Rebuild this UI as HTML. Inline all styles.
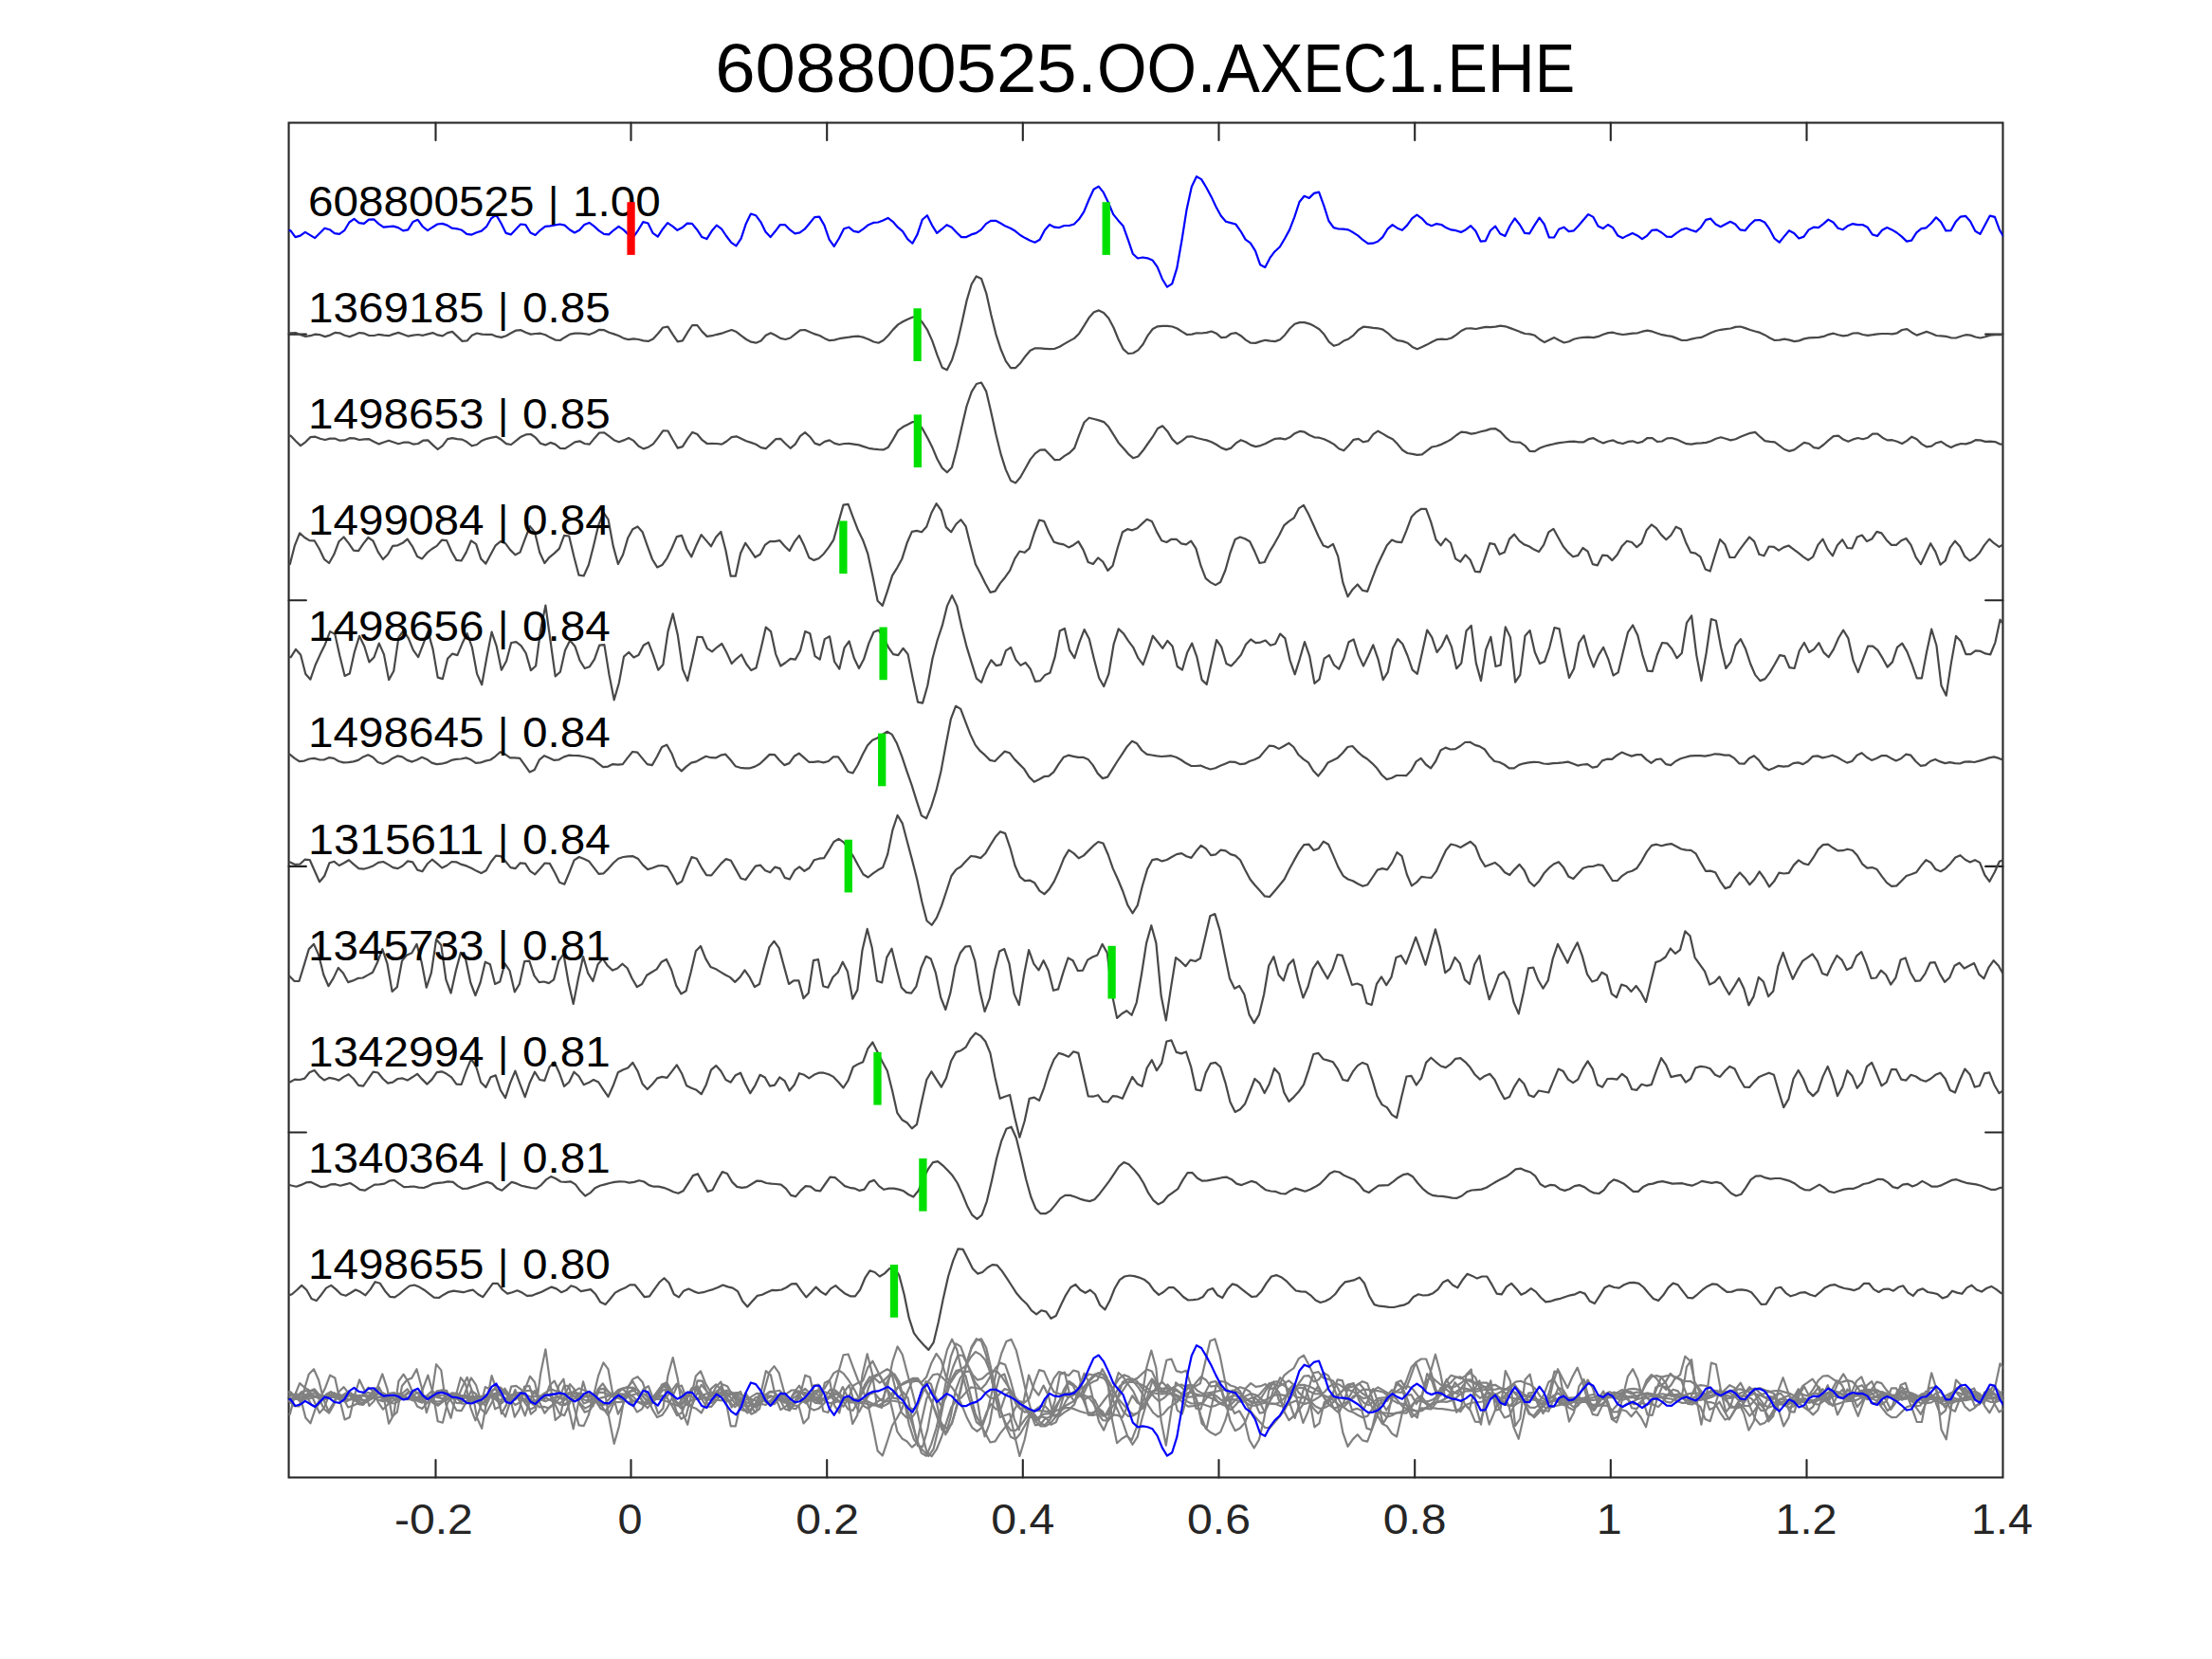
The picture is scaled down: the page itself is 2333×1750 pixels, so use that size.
<!DOCTYPE html><html><head><meta charset="utf-8"><title>608800525.OO.AXEC1.EHE</title>
<style>html,body{margin:0;padding:0;background:#fff}body{width:2333px;height:1750px;overflow:hidden}svg{display:block}text{font-family:"Liberation Sans",sans-serif}</style></head><body>
<svg width="2333" height="1750" viewBox="0 0 2333 1750">
<rect width="2333" height="1750" fill="#fff"/>
<defs>
<clipPath id="cp"><rect x="304.55" y="129.50" width="1807.90" height="1429.00"/></clipPath>
</defs>
<g stroke="#262626" stroke-width="2.1" fill="none" stroke-linecap="round">
<rect x="304.55" y="129.50" width="1807.90" height="1429.00"/>
<path d="M459.5 1558.5v-18.5M459.5 129.5v18.5M665.5 1558.5v-18.5M665.5 129.5v18.5M872.2 1558.5v-18.5M872.2 129.5v18.5M1078.8 1558.5v-18.5M1078.8 129.5v18.5M1285.5 1558.5v-18.5M1285.5 129.5v18.5M1492.2 1558.5v-18.5M1492.2 129.5v18.5M1698.8 1558.5v-18.5M1698.8 129.5v18.5M1905.5 1558.5v-18.5M1905.5 129.5v18.5M304.6 352.6h18.3M2112.4 352.6h-18.3M304.6 633.2h18.3M2112.4 633.2h-18.3M304.6 913.9h18.3M2112.4 913.9h-18.3M304.6 1194.5h18.3M2112.4 1194.5h-18.3M304.6 1475.1h18.3M2112.4 1475.1h-18.3"/>
</g>
<g fill="none" stroke-linejoin="round" stroke-linecap="butt" stroke-width="2.2" clip-path="url(#cp)">
<polyline points="302.3,351.3 306.7,351.3 311.8,351.1 317.0,353.2 322.2,354.9 327.3,354.2 332.5,352.6 337.7,353.2 342.8,355.1 348.0,353.6 353.2,350.9 358.3,351.3 363.5,353.8 368.7,355.1 373.8,353.2 379.0,351.1 384.2,351.7 389.3,354.0 394.5,354.0 399.6,352.8 404.8,353.6 410.0,354.2 415.1,352.4 420.3,350.9 425.5,352.8 430.6,354.7 435.8,353.6 441.0,353.0 446.1,353.8 451.3,352.4 456.5,351.1 461.6,353.4 466.8,354.4 472.0,351.1 477.1,349.9 482.3,354.9 487.5,359.9 492.6,359.4 497.8,353.8 503.0,351.5 508.1,352.6 513.3,352.8 518.5,352.8 523.6,354.9 528.8,355.9 533.9,354.2 539.1,351.3 544.3,348.6 549.4,348.2 554.6,350.7 559.8,352.6 564.9,352.0 570.1,351.7 575.3,353.2 580.4,356.1 585.6,358.6 590.8,359.0 595.9,355.7 601.1,352.6 606.3,351.7 611.4,351.5 616.6,352.2 621.8,352.8 626.9,350.7 632.1,347.8 637.3,348.2 642.4,350.7 647.6,352.4 652.8,354.2 657.9,356.9 663.1,358.2 668.2,357.4 673.4,358.0 678.6,359.4 683.7,359.9 688.9,357.4 694.1,351.7 699.2,345.5 704.4,344.7 709.6,352.8 714.7,360.3 719.9,359.4 725.1,350.7 730.2,343.0 735.4,343.2 740.6,349.9 745.7,354.9 750.9,354.2 756.1,352.8 761.2,351.7 766.4,349.7 771.6,348.0 776.7,350.1 781.9,354.2 787.1,358.0 792.2,360.7 797.4,361.7 802.6,359.4 807.7,353.8 812.9,351.3 818.0,353.8 823.2,356.9 828.4,358.0 833.5,356.5 838.7,352.4 843.9,348.4 849.0,348.0 854.2,350.3 859.4,352.4 864.5,354.0 869.7,356.9 874.9,359.2 880.0,358.6 885.2,357.2 890.4,356.3 895.5,355.7 900.7,354.9 905.9,354.7 911.0,355.9 916.2,358.0 921.4,360.5 926.5,361.7 931.7,359.0 936.9,353.8 942.0,347.6 947.2,342.4 952.3,339.3 957.5,336.8 962.7,334.5 967.8,334.5 973.0,340.3 978.2,348.2 983.3,359.6 988.5,374.6 993.7,387.7 998.8,390.2 1004.0,379.8 1009.2,363.2 1014.3,341.3 1019.5,317.4 1024.7,299.8 1029.8,291.4 1035.0,293.9 1040.2,309.1 1045.3,332.0 1050.5,352.8 1055.7,368.8 1060.8,380.9 1066.0,388.1 1071.2,388.1 1076.3,382.9 1081.5,375.7 1086.6,369.8 1091.8,367.3 1097.0,367.3 1102.1,367.8 1107.3,368.2 1112.5,367.8 1117.6,365.7 1122.8,362.6 1128.0,359.6 1133.1,356.9 1138.3,351.7 1143.5,343.4 1148.6,335.1 1153.8,329.3 1159.0,327.4 1164.1,329.9 1169.3,335.7 1174.5,345.5 1179.6,358.0 1184.8,368.4 1190.0,373.0 1195.1,372.5 1200.3,369.4 1205.5,363.2 1210.6,353.8 1215.8,347.0 1221.0,344.3 1226.1,343.8 1231.3,343.8 1236.4,344.5 1241.6,346.5 1246.8,349.9 1251.9,353.0 1257.1,352.6 1262.3,351.3 1267.4,351.5 1272.6,350.9 1277.8,349.5 1282.9,351.7 1288.1,356.1 1293.3,355.7 1298.4,352.0 1303.6,351.1 1308.8,354.2 1313.9,358.6 1319.1,361.7 1324.3,361.9 1329.4,360.1 1334.6,358.8 1339.8,359.6 1344.9,360.1 1350.1,358.2 1355.3,353.2 1360.4,346.5 1365.6,341.8 1370.7,340.1 1375.9,340.1 1381.1,341.6 1386.2,344.1 1391.4,347.2 1396.6,352.8 1401.7,360.7 1406.9,364.8 1412.1,363.2 1417.2,359.6 1422.4,357.4 1427.6,353.6 1432.7,348.0 1437.9,344.7 1443.1,345.1 1448.2,345.9 1453.4,346.3 1458.6,347.6 1463.7,351.3 1468.9,356.3 1474.1,359.2 1479.2,359.9 1484.4,361.7 1489.6,365.9 1494.7,368.2 1499.9,366.1 1505.0,363.6 1510.2,360.7 1515.4,358.2 1520.5,357.6 1525.7,358.0 1530.9,356.5 1536.0,353.2 1541.2,349.0 1546.4,346.5 1551.5,346.3 1556.7,347.0 1561.9,345.9 1567.0,344.9 1572.2,345.1 1577.4,344.7 1582.5,343.6 1587.7,344.3 1592.9,346.1 1598.0,348.0 1603.2,350.1 1608.4,352.0 1613.5,352.4 1618.7,353.8 1623.9,358.0 1629.0,361.1 1634.2,358.6 1639.3,356.1 1644.5,359.0 1649.7,361.5 1654.8,360.3 1660.0,357.8 1665.2,356.5 1670.3,355.9 1675.5,355.7 1680.7,356.1 1685.8,354.9 1691.0,352.8 1696.2,351.1 1701.3,350.7 1706.5,352.2 1711.7,353.0 1716.8,352.4 1722.0,351.7 1727.2,351.3 1732.3,349.7 1737.5,348.6 1742.7,349.7 1747.8,351.5 1753.0,353.2 1758.2,354.2 1763.3,354.9 1768.5,356.9 1773.7,359.0 1778.8,359.0 1784.0,357.6 1789.1,356.5 1794.3,355.9 1799.5,353.6 1804.6,351.1 1809.8,349.0 1815.0,347.8 1820.1,347.2 1825.3,346.5 1830.5,344.9 1835.6,344.5 1840.8,346.1 1846.0,348.0 1851.1,349.5 1856.3,350.9 1861.5,353.4 1866.6,356.5 1871.8,359.0 1877.0,358.6 1882.1,357.6 1887.3,358.6 1892.5,360.1 1897.6,359.4 1902.8,357.4 1908.0,356.3 1913.1,356.1 1918.3,355.9 1923.4,354.9 1928.6,352.8 1933.8,351.7 1938.9,353.2 1944.1,354.4 1949.3,353.6 1954.4,351.5 1959.6,351.3 1964.8,353.0 1969.9,353.8 1975.1,353.2 1980.3,352.4 1985.4,352.0 1990.6,352.0 1995.8,352.4 2000.9,351.3 2006.1,348.0 2011.3,347.2 2016.4,350.7 2021.6,353.6 2026.8,351.7 2031.9,349.9 2037.1,351.7 2042.3,354.0 2047.4,354.4 2052.6,354.9 2057.7,356.3 2062.9,356.5 2068.1,354.7 2073.2,353.2 2078.4,353.6 2083.6,355.5 2088.7,356.5 2093.9,355.3 2099.1,353.6 2104.2,353.2 2114.6,353.2" stroke="#484848"/>
<polyline points="302.3,459.7 306.7,459.7 311.9,465.3 317.0,470.1 322.2,466.3 327.4,461.1 332.5,460.7 337.7,462.8 342.8,464.0 348.0,462.6 353.2,462.6 358.3,464.7 363.5,464.4 368.7,462.2 373.8,462.4 379.0,464.0 384.2,463.4 389.3,463.2 394.5,465.9 399.7,468.4 404.8,466.5 410.0,464.7 415.2,466.5 420.3,468.2 425.5,466.7 430.7,466.5 435.8,468.6 441.0,468.0 446.2,464.7 451.3,464.4 456.5,469.4 461.7,474.0 466.8,470.1 472.0,463.2 477.2,462.2 482.3,463.2 487.5,463.6 492.6,466.3 497.8,470.3 503.0,469.0 508.1,464.9 513.3,462.8 518.5,461.7 523.6,460.7 528.8,463.8 534.0,468.2 539.1,469.0 544.3,464.9 549.5,460.7 554.6,458.4 559.8,458.0 565.0,461.7 570.1,467.8 575.3,469.4 580.5,466.9 585.6,468.6 590.8,472.8 596.0,473.2 601.1,469.9 606.3,466.3 611.5,465.3 616.6,468.0 621.8,468.6 626.9,462.4 632.1,456.5 637.3,456.3 642.4,460.1 647.6,464.2 652.8,466.3 657.9,464.4 663.1,462.0 668.3,464.9 673.4,470.5 678.6,473.4 683.8,471.7 688.9,468.4 694.1,461.7 699.3,454.3 704.4,454.5 709.6,463.8 714.8,472.6 719.9,471.1 725.1,462.8 730.3,455.9 735.4,458.0 740.6,464.2 745.8,468.0 750.9,467.8 756.1,468.0 761.2,468.6 766.4,465.5 771.6,461.1 776.7,460.3 781.9,462.8 787.1,465.3 792.2,466.9 797.4,468.8 802.6,472.1 807.7,473.2 812.9,468.4 818.1,463.2 823.2,462.8 828.4,468.0 833.6,472.8 838.7,468.6 843.9,460.1 849.1,456.1 854.2,460.7 859.4,467.6 864.6,469.4 869.7,465.9 874.9,464.4 880.1,467.6 885.2,469.0 890.4,468.0 895.6,467.8 900.7,468.6 905.9,469.4 911.0,471.1 916.2,472.8 921.4,473.6 926.5,474.2 931.7,474.4 936.9,471.7 942.0,463.4 947.2,454.1 952.4,450.3 957.5,447.8 962.7,445.1 967.9,445.1 973.0,452.4 978.2,461.7 983.4,472.1 988.5,484.2 993.7,493.6 998.9,498.3 1004.0,492.9 1009.2,473.2 1014.4,450.3 1019.5,428.5 1024.7,413.3 1029.9,405.0 1035.0,403.5 1040.2,412.9 1045.3,434.7 1050.5,458.6 1055.7,479.4 1060.8,495.4 1066.0,506.9 1071.2,509.4 1076.3,503.3 1081.5,494.0 1086.7,484.6 1091.8,478.4 1097.0,474.6 1102.2,474.4 1107.3,479.8 1112.5,485.2 1117.7,484.8 1122.8,480.9 1128.0,477.8 1133.2,472.6 1138.3,458.6 1143.5,445.5 1148.7,440.7 1153.8,442.0 1159.0,443.4 1164.2,445.1 1169.3,450.3 1174.5,458.6 1179.6,466.9 1184.8,472.8 1190.0,478.8 1195.1,483.2 1200.3,481.5 1205.5,475.3 1210.6,468.0 1215.8,460.7 1221.0,452.0 1226.1,449.3 1231.3,454.9 1236.5,463.4 1241.6,468.2 1246.8,464.9 1252.0,460.7 1257.1,460.3 1262.3,462.0 1267.5,463.2 1272.6,464.4 1277.8,466.3 1283.0,469.0 1288.1,472.4 1293.3,474.4 1298.5,472.6 1303.6,467.4 1308.8,464.2 1314.0,466.3 1319.1,469.4 1324.3,471.1 1329.4,470.1 1334.6,468.0 1339.8,465.3 1344.9,462.8 1350.1,462.4 1355.3,463.4 1360.4,461.3 1365.6,457.2 1370.8,454.9 1375.9,455.7 1381.1,459.0 1386.3,461.3 1391.4,461.7 1396.6,463.2 1401.8,465.7 1406.9,468.6 1412.1,473.2 1417.3,475.3 1422.4,470.1 1427.6,463.8 1432.8,462.8 1437.9,466.3 1443.1,465.1 1448.3,458.2 1453.4,454.7 1458.6,457.6 1463.7,460.7 1468.9,463.2 1474.1,468.6 1479.2,474.8 1484.4,478.0 1489.6,478.8 1494.7,479.8 1499.9,479.4 1505.1,475.3 1510.2,471.5 1515.4,470.5 1520.6,468.6 1525.7,466.1 1530.9,463.2 1536.1,459.0 1541.2,455.7 1546.4,456.1 1551.6,457.6 1556.7,456.8 1561.9,455.3 1567.1,454.1 1572.2,452.4 1577.4,452.2 1582.6,455.5 1587.7,461.1 1592.9,465.5 1598.0,466.5 1603.2,466.7 1608.4,470.1 1613.5,475.9 1618.7,476.1 1623.9,472.8 1629.0,470.7 1634.2,469.4 1639.4,468.2 1644.5,467.2 1649.7,466.5 1654.9,465.9 1660.0,465.7 1665.2,466.3 1670.4,466.3 1675.5,463.2 1680.7,462.2 1685.9,465.3 1691.0,467.4 1696.2,465.5 1701.4,464.4 1706.5,466.9 1711.7,468.0 1716.9,465.9 1722.0,465.3 1727.2,467.2 1732.3,465.9 1737.5,462.0 1742.7,462.2 1747.8,465.9 1753.0,465.5 1758.2,462.4 1763.3,462.0 1768.5,463.6 1773.7,465.9 1778.8,468.2 1784.0,468.6 1789.2,467.6 1794.3,467.4 1799.5,466.9 1804.7,465.3 1809.8,462.8 1815.0,461.3 1820.2,462.8 1825.3,464.4 1830.5,463.2 1835.7,460.7 1840.8,458.8 1846.0,456.8 1851.2,455.9 1856.3,460.7 1861.5,465.1 1866.7,465.9 1871.8,466.3 1877.0,470.1 1882.1,474.0 1887.3,475.9 1892.5,474.4 1897.6,470.7 1902.8,466.9 1908.0,468.0 1913.1,472.1 1918.3,472.8 1923.5,469.0 1928.6,464.4 1933.8,460.1 1939.0,459.7 1944.1,463.6 1949.3,465.7 1954.5,463.4 1959.6,462.0 1964.8,463.2 1970.0,461.7 1975.1,457.6 1980.3,457.6 1985.5,461.7 1990.6,464.4 1995.8,464.2 2001.0,465.7 2006.1,468.0 2011.3,464.9 2016.4,460.7 2021.6,463.2 2026.8,468.4 2031.9,471.3 2037.1,470.7 2042.3,467.2 2047.4,465.9 2052.6,469.4 2057.8,471.9 2062.9,469.6 2068.1,468.0 2073.3,468.4 2078.4,466.9 2083.6,464.2 2088.8,464.4 2093.9,465.9 2099.1,465.7 2104.3,466.1 2109.4,468.4 2114.6,469.4" stroke="#484848"/>
<polyline points="302.3,595.2 305.8,595.2 310.9,575.3 316.1,562.4 321.3,567.0 326.4,570.1 331.6,570.3 336.8,579.0 341.9,589.8 347.1,594.0 352.3,584.8 357.4,571.3 362.6,566.5 367.8,573.2 372.9,580.7 378.1,581.1 383.3,573.4 388.4,567.0 393.6,570.7 398.7,582.1 403.9,590.0 409.1,584.8 414.2,575.9 419.4,575.3 424.6,572.8 429.7,568.6 434.9,576.3 440.1,586.9 445.2,589.4 450.4,583.2 455.6,579.0 460.7,575.9 465.9,569.7 471.1,570.1 476.2,581.7 481.4,590.9 486.6,591.5 491.7,582.6 496.9,570.3 502.1,573.8 507.2,589.4 512.4,594.6 517.6,584.8 522.7,575.3 527.9,571.1 533.0,573.2 538.2,580.1 543.4,585.3 548.5,582.6 553.7,568.6 558.9,555.1 564.0,561.3 569.2,582.8 574.4,594.0 579.5,587.8 584.7,583.6 589.9,578.6 595.0,564.9 600.2,565.5 605.4,587.3 610.5,606.7 615.7,607.5 620.9,595.7 626.0,575.9 631.2,554.1 636.4,540.6 641.5,547.8 646.7,575.9 651.9,595.0 657.0,585.3 662.2,567.6 667.3,558.2 672.5,555.5 677.7,561.3 682.8,575.9 688.0,590.0 693.2,598.4 698.3,596.1 703.5,588.8 708.7,578.0 713.8,566.1 719.0,564.9 724.2,579.0 729.3,587.3 734.5,574.9 739.7,564.1 744.8,570.1 750.0,576.3 755.2,566.5 760.3,560.9 765.5,580.7 770.7,607.7 775.8,607.7 781.0,583.8 786.2,572.8 791.3,580.1 796.5,587.8 801.7,584.8 806.8,574.9 812.0,571.1 817.1,571.1 822.3,570.1 827.5,575.9 832.6,581.1 837.8,571.7 843.0,564.9 848.1,575.3 853.3,588.2 858.5,590.9 863.6,589.0 868.8,584.2 874.0,577.4 879.1,569.7 884.3,550.9 889.5,532.6 894.6,531.8 899.8,545.8 905.0,559.3 910.1,569.7 915.3,584.2 920.5,608.1 925.6,633.7 930.8,638.9 936.0,623.3 941.1,607.1 946.3,598.8 951.4,589.4 956.6,572.8 961.8,560.9 966.9,559.9 972.1,561.3 977.3,555.5 982.4,541.0 987.6,531.2 992.8,538.5 997.9,556.1 1003.1,561.3 1008.3,553.0 1013.4,548.2 1018.6,555.1 1023.8,575.9 1028.9,595.2 1034.1,605.0 1039.3,615.4 1044.4,624.8 1049.6,623.7 1054.8,615.4 1059.9,609.2 1065.1,601.9 1070.3,589.4 1075.4,581.5 1080.6,582.8 1085.7,578.4 1090.9,562.0 1096.1,548.5 1101.2,549.9 1106.4,562.0 1111.6,571.7 1116.7,573.4 1121.9,574.4 1127.1,577.4 1132.2,574.9 1137.4,571.1 1142.6,580.1 1147.7,593.0 1152.9,595.0 1158.1,588.4 1163.2,592.5 1168.4,601.9 1173.6,596.7 1178.7,578.0 1183.9,561.3 1189.1,558.2 1194.2,559.3 1199.4,557.2 1204.6,552.4 1209.7,547.8 1214.9,549.9 1220.0,560.9 1225.2,570.3 1230.4,572.0 1235.5,568.8 1240.7,568.8 1245.9,573.4 1251.0,574.4 1256.2,570.7 1261.4,578.6 1266.5,596.7 1271.7,610.2 1276.9,614.4 1282.0,617.1 1287.2,614.0 1292.4,601.5 1297.5,583.2 1302.7,569.0 1307.9,566.5 1313.0,568.2 1318.2,571.3 1323.4,582.1 1328.5,594.0 1333.7,593.0 1338.9,582.1 1344.0,573.8 1349.2,564.5 1354.4,554.1 1359.5,549.9 1364.7,546.4 1369.8,536.4 1375.0,532.9 1380.2,542.6 1385.3,553.7 1390.5,565.5 1395.7,575.5 1400.8,577.4 1406.0,573.8 1411.2,586.9 1416.3,614.4 1421.5,629.3 1426.7,621.7 1431.8,616.5 1437.0,622.7 1442.2,623.9 1447.3,610.2 1452.5,596.7 1457.7,585.7 1462.8,575.3 1468.0,569.5 1473.2,571.7 1478.3,572.2 1483.5,559.3 1488.7,545.3 1493.8,540.1 1499.0,536.8 1504.1,536.8 1509.3,550.9 1514.5,569.2 1519.6,575.3 1524.8,568.2 1530.0,572.8 1535.1,589.4 1540.3,592.5 1545.5,585.3 1550.6,590.5 1555.8,602.9 1561.0,603.4 1566.1,588.4 1571.3,573.2 1576.5,574.2 1581.6,584.8 1586.8,582.6 1592.0,568.6 1597.1,563.6 1602.3,570.3 1607.5,574.4 1612.6,576.3 1617.8,579.6 1623.0,582.1 1628.1,574.9 1633.3,561.3 1638.4,557.8 1643.6,567.2 1648.8,576.5 1653.9,582.6 1659.1,587.3 1664.3,585.9 1669.4,578.0 1674.6,581.7 1679.8,595.2 1684.9,596.3 1690.1,585.7 1695.3,586.1 1700.4,591.1 1705.6,585.3 1710.8,575.9 1715.9,570.7 1721.1,572.0 1726.3,577.2 1731.4,572.8 1736.6,559.3 1741.8,553.4 1746.9,557.2 1752.1,564.1 1757.3,569.2 1762.4,564.5 1767.6,555.7 1772.8,558.2 1777.9,571.7 1783.1,582.6 1788.2,583.6 1793.4,587.3 1798.6,600.4 1803.7,602.5 1808.9,585.3 1814.1,569.0 1819.2,574.2 1824.4,588.0 1829.6,588.0 1834.7,580.1 1839.9,573.2 1845.1,566.5 1850.2,571.1 1855.4,584.8 1860.6,586.3 1865.7,576.5 1870.9,576.9 1876.1,580.7 1881.2,577.4 1886.4,575.5 1891.6,579.4 1896.7,583.2 1901.9,587.3 1907.1,590.9 1912.2,587.3 1917.4,574.9 1922.5,568.6 1927.7,579.6 1932.9,586.3 1938.0,574.9 1943.2,569.2 1948.4,578.0 1953.5,578.4 1958.7,566.5 1963.9,564.5 1969.0,571.1 1974.2,568.6 1979.4,560.9 1984.5,562.4 1989.7,569.7 1994.9,574.9 2000.0,574.9 2005.2,570.3 2010.4,568.0 2015.5,574.9 2020.7,587.8 2025.9,595.2 2031.0,584.2 2036.2,573.2 2041.4,582.1 2046.5,595.7 2051.7,591.5 2056.8,577.6 2062.0,570.7 2067.2,576.5 2072.3,586.9 2077.5,591.5 2082.7,588.4 2087.8,583.2 2093.0,574.9 2098.2,568.6 2103.3,573.2 2108.5,576.9 2113.7,573.8" stroke="#484848"/>
<polyline points="302.3,693.2 306.8,693.2 312.0,684.9 317.1,690.7 322.3,710.9 327.4,716.7 332.6,701.5 337.8,690.1 342.9,679.7 348.1,666.1 353.3,668.9 358.4,692.1 363.6,712.9 368.8,710.4 373.9,687.6 379.1,670.9 384.3,681.7 389.4,698.4 394.6,693.2 399.8,678.6 404.9,690.1 410.1,717.1 415.3,707.7 420.4,672.4 425.6,665.1 430.8,673.4 435.9,685.9 441.1,693.2 446.3,679.7 451.4,666.1 456.6,684.9 461.7,714.6 466.9,716.1 472.1,694.8 477.2,689.6 482.4,691.1 487.6,678.6 492.7,668.2 497.9,682.8 503.1,710.9 508.2,722.3 513.4,693.2 518.6,666.6 523.7,681.7 528.9,706.7 534.1,697.3 539.2,678.0 544.4,677.2 549.6,681.1 554.7,689.0 559.9,707.1 565.1,702.5 570.2,664.1 575.4,638.7 580.6,676.5 585.7,713.4 590.9,708.8 596.0,685.9 601.2,675.5 606.4,681.7 611.5,696.7 616.7,705.0 621.9,703.2 627.0,695.3 632.2,680.7 637.4,680.1 642.5,711.9 647.7,738.3 652.9,720.2 658.0,692.6 663.2,688.0 668.4,693.6 673.5,691.1 678.7,680.7 683.9,677.6 689.0,691.1 694.2,706.7 699.4,700.9 704.5,666.1 709.7,647.4 714.9,670.3 720.0,705.7 725.2,718.1 730.4,695.3 735.5,671.8 740.7,672.0 745.8,683.8 751.0,687.4 756.2,682.8 761.3,679.0 766.5,688.6 771.7,700.0 776.8,694.8 782.0,690.5 787.2,700.5 792.3,707.1 797.5,704.6 802.7,683.8 807.8,661.6 813.0,666.1 818.2,690.1 823.3,702.5 828.5,699.0 833.7,694.8 838.8,695.7 844.0,686.5 849.2,666.1 854.3,668.2 859.5,692.1 864.7,695.7 869.8,674.1 875.0,671.3 880.1,698.0 885.3,705.7 890.5,683.4 895.6,676.5 900.8,694.2 906.0,705.0 911.1,695.3 916.3,678.6 921.5,666.8 926.6,664.7 931.8,672.4 937.0,682.8 942.1,690.1 947.3,691.1 952.5,683.8 957.6,690.1 962.8,716.1 968.0,740.6 973.1,741.6 978.3,723.3 983.5,694.8 988.6,675.5 993.8,659.9 999.0,639.1 1004.1,628.1 1009.3,639.1 1014.4,662.0 1019.6,682.4 1024.8,699.4 1029.9,715.6 1035.1,719.8 1040.3,705.7 1045.4,696.3 1050.6,702.1 1055.8,701.1 1060.9,686.3 1066.1,682.8 1071.3,695.9 1076.4,701.9 1081.6,699.0 1086.8,705.7 1091.9,718.8 1097.1,718.1 1102.3,711.9 1107.4,709.8 1112.6,693.2 1117.8,665.5 1122.9,663.0 1128.1,685.9 1133.3,694.2 1138.4,677.6 1143.6,664.1 1148.8,674.1 1153.9,695.3 1159.1,715.0 1164.2,724.0 1169.4,710.9 1174.6,679.7 1179.7,663.4 1184.9,668.2 1190.1,676.1 1195.2,682.8 1200.4,694.2 1205.6,701.1 1210.7,686.9 1215.9,670.7 1221.1,677.2 1226.2,683.8 1231.4,675.9 1236.6,681.7 1241.7,703.0 1246.9,706.7 1252.1,688.6 1257.2,678.6 1262.4,693.2 1267.6,717.1 1272.7,721.9 1277.9,698.4 1283.1,675.1 1288.2,682.4 1293.4,700.0 1298.5,702.5 1303.7,696.9 1308.9,690.7 1314.0,679.7 1319.2,674.5 1324.4,678.2 1329.5,677.6 1334.7,675.5 1339.9,680.7 1345.0,679.2 1350.2,668.6 1355.4,673.4 1360.5,696.3 1365.7,711.3 1370.9,694.8 1376.0,677.0 1381.2,692.1 1386.4,720.8 1391.5,716.7 1396.7,694.6 1401.9,691.1 1407.0,701.5 1412.2,705.7 1417.4,694.2 1422.5,677.2 1427.7,674.5 1432.8,691.1 1438.0,702.5 1443.2,691.7 1448.3,680.3 1453.5,695.3 1458.7,717.1 1463.8,708.8 1469.0,683.8 1474.2,674.1 1479.3,679.2 1484.5,691.5 1489.7,706.7 1494.8,710.9 1500.0,688.0 1505.2,664.5 1510.3,672.4 1515.5,688.0 1520.7,681.3 1525.8,670.3 1531.0,682.4 1536.2,705.2 1541.3,699.4 1546.5,665.5 1551.7,659.9 1556.8,699.4 1562.0,718.1 1567.1,685.3 1572.3,671.8 1577.5,703.0 1582.6,701.5 1587.8,661.4 1593.0,672.4 1598.1,719.6 1603.3,711.9 1608.5,670.7 1613.6,665.1 1618.8,688.0 1624.0,700.0 1629.1,697.8 1634.3,682.8 1639.5,662.0 1644.6,663.4 1649.8,690.5 1655.0,715.0 1660.1,705.2 1665.3,678.0 1670.5,670.3 1675.6,690.1 1680.8,703.6 1686.0,691.1 1691.1,682.8 1696.3,695.3 1701.5,712.5 1706.6,709.4 1711.8,688.0 1716.9,667.2 1722.1,659.5 1727.3,670.3 1732.4,691.1 1737.6,707.7 1742.8,708.2 1747.9,690.5 1753.1,678.0 1758.3,678.6 1763.4,684.4 1768.6,694.2 1773.8,689.0 1778.9,657.2 1784.1,649.5 1789.3,691.1 1794.4,718.1 1799.6,689.0 1804.8,653.0 1809.9,654.7 1815.1,682.8 1820.3,705.0 1825.4,698.4 1830.6,680.7 1835.8,674.1 1840.9,684.2 1846.1,700.0 1851.2,711.9 1856.4,718.1 1861.6,716.1 1866.7,709.4 1871.9,700.5 1877.1,691.1 1882.2,692.1 1887.4,704.2 1892.6,705.0 1897.7,686.5 1902.9,678.0 1908.1,688.0 1913.2,684.9 1918.4,678.2 1923.6,688.4 1928.7,693.2 1933.9,684.9 1939.1,673.0 1944.2,664.7 1949.4,673.4 1954.6,696.9 1959.7,709.2 1964.9,695.3 1970.1,681.7 1975.2,681.7 1980.4,685.9 1985.5,694.2 1990.7,703.6 1995.9,698.4 2001.0,682.8 2006.2,678.6 2011.4,687.4 2016.5,700.5 2021.7,715.4 2026.9,715.4 2032.0,688.0 2037.2,663.7 2042.4,680.7 2047.5,723.3 2052.7,733.7 2057.9,699.4 2063.0,670.9 2068.2,676.5 2073.4,690.1 2078.5,690.1 2083.7,686.3 2088.9,686.9 2094.0,689.4 2099.2,690.5 2104.4,677.6 2109.5,653.7 2114.7,660.9" stroke="#484848"/>
<polyline points="302.3,795.7 305.5,795.7 310.7,799.9 315.9,803.2 321.0,802.6 326.2,800.5 331.3,799.9 336.5,801.3 341.7,801.5 346.8,799.2 352.0,799.9 357.2,803.0 362.3,804.4 367.5,804.2 372.7,803.4 377.8,801.9 383.0,798.4 388.2,796.3 393.3,798.8 398.5,804.0 403.7,805.7 408.8,803.6 414.0,799.9 419.2,797.4 424.3,798.4 429.5,801.9 434.7,803.6 439.8,801.5 445.0,798.8 450.2,800.9 455.3,804.6 460.5,806.1 465.6,805.7 470.8,804.4 476.0,801.9 481.1,800.9 486.3,800.5 491.5,799.4 496.6,801.3 501.8,804.9 507.0,804.4 512.1,802.6 517.3,801.5 522.5,797.8 527.6,793.2 532.8,795.7 538.0,799.4 543.1,799.4 548.3,799.9 553.5,807.1 558.6,814.4 563.8,811.9 569.0,801.3 574.1,797.2 579.3,799.4 584.5,801.9 589.6,801.3 594.8,798.4 599.9,796.7 605.1,797.0 610.3,797.2 615.4,798.0 620.6,799.2 625.8,800.9 630.9,805.1 636.1,809.2 641.3,808.6 646.4,806.1 651.6,806.7 656.8,806.1 661.9,799.4 667.1,793.0 672.3,793.6 677.4,799.9 682.6,806.1 687.8,807.1 692.9,798.2 698.1,788.0 703.3,785.7 708.4,794.7 713.6,808.2 718.8,813.4 723.9,808.6 729.1,804.6 734.3,803.4 739.4,800.5 744.6,797.8 749.7,799.2 754.9,799.4 760.1,796.7 765.2,795.7 770.4,801.5 775.6,808.2 780.7,809.8 785.9,810.3 791.1,810.3 796.2,808.6 801.4,805.7 806.6,800.9 811.7,795.9 816.9,796.1 822.1,801.9 827.2,807.1 832.4,805.1 837.6,797.8 842.7,794.7 847.9,799.2 853.1,803.8 858.2,803.8 863.4,803.2 868.6,804.4 873.7,803.0 878.9,798.4 884.0,798.4 889.2,805.7 894.4,814.0 899.5,815.5 904.7,806.7 909.9,795.7 915.0,786.3 920.2,780.7 925.4,778.4 930.5,774.9 935.7,771.8 940.9,774.9 946.0,784.3 951.2,797.8 956.4,813.4 961.5,827.9 966.7,844.6 971.9,860.4 977.0,863.3 982.2,850.8 987.4,834.2 992.5,813.4 997.7,785.3 1002.9,758.3 1008.0,744.8 1013.2,747.9 1018.3,761.4 1023.5,774.9 1028.7,785.9 1033.8,792.2 1039.0,796.7 1044.2,801.9 1049.3,803.0 1054.5,797.8 1059.7,792.6 1064.8,794.2 1070.0,800.9 1075.2,806.1 1080.3,811.3 1085.5,819.6 1090.7,824.8 1095.8,822.3 1101.0,819.2 1106.2,818.6 1111.3,814.4 1116.5,806.1 1121.7,798.8 1126.8,796.7 1132.0,797.8 1137.2,798.8 1142.3,798.8 1147.5,800.9 1152.7,807.1 1157.8,815.9 1163.0,821.1 1168.1,819.6 1173.3,811.3 1178.5,803.0 1183.6,795.3 1188.8,787.4 1194.0,781.8 1199.1,784.3 1204.3,791.5 1209.5,795.7 1214.6,796.5 1219.8,797.4 1225.0,798.0 1230.1,797.6 1235.3,797.2 1240.5,798.8 1245.6,801.5 1250.8,805.1 1256.0,807.8 1261.1,808.0 1266.3,807.6 1271.5,809.8 1276.6,811.5 1281.8,810.3 1287.0,807.8 1292.1,805.7 1297.3,803.6 1302.4,803.8 1307.6,806.1 1312.8,805.7 1317.9,803.0 1323.1,801.3 1328.3,798.8 1333.4,792.6 1338.6,786.6 1343.8,787.2 1348.9,789.9 1354.1,787.0 1359.3,783.9 1364.4,788.0 1369.6,796.3 1374.8,800.9 1379.9,804.4 1385.1,813.0 1390.3,818.6 1395.4,812.3 1400.6,804.4 1405.8,801.9 1410.9,799.4 1416.1,794.2 1421.3,788.0 1426.4,787.0 1431.6,792.6 1436.7,797.2 1441.9,800.5 1447.1,805.1 1452.2,810.3 1457.4,817.5 1462.6,822.1 1467.7,820.7 1472.9,818.0 1478.1,818.0 1483.2,818.2 1488.4,812.8 1493.6,803.4 1498.7,799.9 1503.9,806.5 1509.1,810.3 1514.2,803.0 1519.4,791.5 1524.6,788.6 1529.7,790.5 1534.9,790.1 1540.1,787.0 1545.2,783.0 1550.4,782.8 1555.6,785.9 1560.7,787.4 1565.9,790.5 1571.1,797.8 1576.2,803.0 1581.4,804.0 1586.5,806.5 1591.7,810.3 1596.9,810.3 1602.0,806.9 1607.2,805.3 1612.4,804.4 1617.5,803.8 1622.7,804.0 1627.9,805.5 1633.0,805.9 1638.2,805.1 1643.4,804.9 1648.5,804.4 1653.7,803.6 1658.9,805.5 1664.0,807.6 1669.2,806.5 1674.4,806.1 1679.5,809.6 1684.7,808.6 1689.9,802.4 1695.0,800.7 1700.2,800.9 1705.4,796.7 1710.5,793.6 1715.7,795.7 1720.8,797.6 1726.0,796.1 1731.2,796.1 1736.3,801.1 1741.5,804.9 1746.7,801.1 1751.8,800.5 1757.0,806.1 1762.2,807.1 1767.3,803.0 1772.5,800.3 1777.7,798.8 1782.8,797.4 1788.0,797.2 1793.2,797.2 1798.3,797.6 1803.5,796.7 1808.7,795.3 1813.8,795.7 1819.0,796.7 1824.2,796.7 1829.3,799.9 1834.5,805.5 1839.7,805.7 1844.8,799.9 1850.0,797.2 1855.1,801.9 1860.3,809.2 1865.5,812.3 1870.6,810.3 1875.8,807.8 1881.0,808.6 1886.1,808.2 1891.3,805.1 1896.5,804.4 1901.6,806.1 1906.8,803.0 1912.0,797.8 1917.1,797.4 1922.3,799.4 1927.5,798.2 1932.6,796.7 1937.8,798.8 1943.0,801.9 1948.1,804.6 1953.3,803.0 1958.5,796.7 1963.6,794.2 1968.8,798.8 1974.0,801.9 1979.1,799.9 1984.3,797.2 1989.4,797.0 1994.6,799.9 1999.8,802.4 2004.9,800.3 2010.1,795.7 2015.3,796.7 2020.4,803.0 2025.6,807.8 2030.8,807.1 2035.9,803.0 2041.1,800.9 2046.3,803.4 2051.4,805.1 2056.6,804.2 2061.8,805.1 2066.9,805.5 2072.1,803.6 2077.3,803.4 2082.4,804.0 2087.6,802.6 2092.8,801.1 2097.9,799.4 2103.1,798.4 2108.3,799.9 2113.4,801.9" stroke="#484848"/>
<polyline points="302.3,909.4 306.0,909.4 311.2,911.9 316.4,911.5 321.5,906.7 326.7,907.0 331.9,918.8 337.0,930.2 342.2,924.0 347.4,910.3 352.5,908.8 357.7,913.0 362.9,910.3 368.0,907.2 373.2,911.9 378.4,916.1 383.5,916.7 388.7,915.3 393.9,913.2 399.0,909.9 404.2,909.0 409.4,911.9 414.5,915.1 419.7,916.1 424.8,913.2 430.0,908.4 435.2,909.4 440.3,917.6 445.5,919.2 450.7,911.3 455.8,906.7 461.0,910.9 466.2,915.5 471.3,913.0 476.5,909.0 481.7,909.4 486.8,911.9 492.0,913.4 497.2,915.7 502.3,918.6 507.5,921.1 512.7,918.2 517.8,909.2 523.0,902.6 528.2,903.2 533.3,908.8 538.5,915.1 543.7,916.1 548.8,910.3 554.0,910.9 559.1,918.8 564.3,922.3 569.5,916.5 574.6,910.5 579.8,910.9 585.0,920.3 590.1,930.7 595.3,932.7 600.5,920.3 605.6,907.4 610.8,904.0 616.0,906.1 621.1,908.4 626.3,915.1 631.5,921.9 636.6,921.3 641.8,916.1 647.0,910.3 652.1,905.7 657.3,904.0 662.5,903.4 667.6,903.2 672.8,905.7 678.0,912.4 683.1,917.1 688.3,915.5 693.5,913.4 698.6,913.0 703.8,914.4 708.9,922.8 714.1,932.7 719.3,929.6 724.4,916.1 729.6,904.0 734.8,905.7 739.9,915.1 745.1,923.2 750.3,923.4 755.4,917.1 760.6,910.9 765.8,906.1 770.9,907.8 776.1,917.1 781.3,926.5 786.4,928.0 791.6,920.9 796.8,913.6 801.9,912.6 807.1,918.2 812.3,920.3 817.4,914.6 822.6,916.1 827.8,925.9 832.9,927.5 838.1,918.2 843.2,914.4 848.4,918.8 853.6,915.5 858.7,907.2 863.9,905.7 869.1,905.1 874.2,896.8 879.4,888.0 884.6,884.9 889.7,888.4 894.9,895.3 900.1,903.6 905.2,913.0 910.4,922.3 915.6,925.5 920.7,921.3 925.9,917.8 931.1,915.1 936.2,901.1 941.4,875.6 946.6,860.0 951.7,868.3 956.9,888.0 962.1,907.4 967.2,927.5 972.4,951.5 977.5,971.2 982.7,975.8 987.9,968.1 993.0,955.6 998.2,940.0 1003.4,924.0 1008.5,917.1 1013.7,914.0 1018.9,908.2 1024.0,903.0 1029.2,903.6 1034.4,905.1 1039.5,899.9 1044.7,891.1 1049.9,882.8 1055.0,877.2 1060.2,879.1 1065.4,894.3 1070.5,913.0 1075.7,924.8 1080.9,929.2 1086.0,928.6 1091.2,931.3 1096.4,939.6 1101.5,943.1 1106.7,937.9 1111.9,929.6 1117.0,918.2 1122.2,905.1 1127.3,896.6 1132.5,900.1 1137.7,905.3 1142.8,902.6 1148.0,897.4 1153.2,892.2 1158.3,888.0 1163.5,889.5 1168.7,901.5 1173.8,916.1 1179.0,927.5 1184.2,940.0 1189.3,954.6 1194.5,963.3 1199.7,955.2 1204.8,934.8 1210.0,917.1 1215.2,907.2 1220.3,906.1 1225.5,908.4 1230.7,907.0 1235.8,904.0 1241.0,901.1 1246.2,900.1 1251.3,903.2 1256.5,904.9 1261.6,897.8 1266.8,891.8 1272.0,895.3 1277.1,902.2 1282.3,901.3 1287.5,896.6 1292.6,897.4 1297.8,901.1 1303.0,902.6 1308.1,907.2 1313.3,917.8 1318.5,927.5 1323.6,933.8 1328.8,939.6 1334.0,945.4 1339.1,946.0 1344.3,940.0 1349.5,933.8 1354.6,927.5 1359.8,917.1 1365.0,907.4 1370.1,898.4 1375.3,891.1 1380.5,890.7 1385.6,897.0 1390.8,894.9 1395.9,887.6 1401.1,890.7 1406.3,902.6 1411.4,914.6 1416.6,923.8 1421.8,927.5 1426.9,929.2 1432.1,932.3 1437.3,934.8 1442.4,933.2 1447.6,925.5 1452.8,917.6 1457.9,916.1 1463.1,917.4 1468.3,909.9 1473.4,899.1 1478.6,903.2 1483.8,922.3 1488.9,934.4 1494.1,930.7 1499.3,924.8 1504.4,925.5 1509.6,925.9 1514.8,919.2 1519.9,907.8 1525.1,896.8 1530.3,890.5 1535.4,891.8 1540.6,893.9 1545.7,890.7 1550.9,887.8 1556.1,892.6 1561.2,905.7 1566.4,914.0 1571.6,911.9 1576.7,909.9 1581.9,914.0 1587.1,920.3 1592.2,923.0 1597.4,917.1 1602.6,911.9 1607.7,918.2 1612.9,930.0 1618.1,934.8 1623.2,929.6 1628.4,921.3 1633.6,915.7 1638.7,911.5 1643.9,909.2 1649.1,915.1 1654.2,924.4 1659.4,926.9 1664.6,921.3 1669.7,915.7 1674.9,914.2 1680.0,914.0 1685.2,912.2 1690.4,912.8 1695.5,920.9 1700.7,929.0 1705.9,929.0 1711.0,923.8 1716.2,920.3 1721.4,918.8 1726.5,915.7 1731.7,907.8 1736.9,898.4 1742.0,891.8 1747.2,890.7 1752.4,892.2 1757.5,890.9 1762.7,890.1 1767.9,892.8 1773.0,895.5 1778.2,896.6 1783.4,896.8 1788.5,900.3 1793.7,909.9 1798.9,918.8 1804.0,918.6 1809.2,920.3 1814.3,929.6 1819.5,937.1 1824.7,935.4 1829.8,926.5 1835.0,920.5 1840.2,925.9 1845.3,933.2 1850.5,927.5 1855.7,919.4 1860.8,926.5 1866.0,935.4 1871.2,929.6 1876.3,920.7 1881.5,921.5 1886.7,920.9 1891.8,912.6 1897.0,907.4 1902.2,910.9 1907.3,912.2 1912.5,904.7 1917.7,895.9 1922.8,891.1 1928.0,890.7 1933.2,894.3 1938.3,897.4 1943.5,897.2 1948.6,895.7 1953.8,897.0 1959.0,902.6 1964.1,911.3 1969.3,915.7 1974.5,915.1 1979.6,917.1 1984.8,924.4 1990.0,931.1 1995.1,934.8 2000.3,934.4 2005.5,929.2 2010.6,924.0 2015.8,922.3 2021.0,920.3 2026.1,913.4 2031.3,907.2 2036.5,909.9 2041.6,917.1 2046.8,919.2 2052.0,916.1 2057.1,910.9 2062.3,904.5 2067.5,902.2 2072.6,906.7 2077.8,909.4 2083.0,907.2 2088.1,909.9 2093.3,923.0 2098.4,929.8 2103.6,920.3 2108.8,908.8 2113.9,906.7" stroke="#484848"/>
<polyline points="302.3,1029.6 305.2,1029.6 310.3,1034.8 315.5,1035.0 320.6,1018.4 325.8,1001.1 331.0,995.9 336.1,1007.4 341.3,1028.2 346.5,1040.2 351.6,1031.9 356.8,1020.9 362.0,1026.5 367.1,1036.1 372.3,1034.4 377.5,1031.9 382.6,1031.5 387.8,1028.6 393.0,1025.7 398.1,1015.1 403.3,1001.1 408.5,1016.7 413.6,1045.9 418.8,1041.3 424.0,1013.6 429.1,1007.4 434.3,1005.3 439.5,995.9 444.6,1014.7 449.8,1041.7 454.9,1026.1 460.1,990.8 465.3,997.0 470.4,1033.4 475.6,1047.5 480.8,1024.0 485.9,1004.9 491.1,1011.5 496.3,1036.5 501.4,1050.0 506.6,1036.5 511.8,1014.7 516.9,1017.2 522.1,1038.0 527.3,1035.5 532.4,1016.3 537.6,1024.0 542.8,1046.3 547.9,1038.0 553.1,1014.2 558.3,1013.6 563.4,1029.2 568.6,1036.1 573.8,1035.5 578.9,1037.1 584.1,1033.4 589.3,1013.6 594.4,1006.3 599.6,1036.5 604.7,1059.0 609.9,1032.3 615.1,1009.1 620.2,1026.7 625.4,1035.0 630.6,1017.2 635.7,1011.1 640.9,1018.8 646.1,1023.6 651.2,1021.5 656.4,1016.7 661.6,1021.3 666.7,1032.3 671.9,1041.1 677.1,1038.0 682.2,1028.8 687.4,1025.5 692.6,1022.4 697.7,1014.7 702.9,1012.0 708.1,1023.0 713.2,1039.6 718.4,1048.4 723.6,1045.2 728.7,1025.5 733.9,1003.2 739.0,998.0 744.2,1011.1 749.4,1019.9 754.5,1021.9 759.7,1025.1 764.9,1028.2 770.0,1030.9 775.2,1035.9 780.4,1030.9 785.5,1023.4 790.7,1030.9 795.9,1041.1 801.0,1038.0 806.2,1017.8 811.4,999.1 816.5,992.8 821.7,1000.1 826.9,1019.4 832.0,1038.0 837.2,1034.4 842.4,1034.4 847.5,1053.1 852.7,1047.5 857.9,1013.2 863.0,1012.2 868.2,1040.2 873.3,1041.7 878.5,1030.7 883.7,1025.7 888.8,1014.7 894.0,1025.1 899.2,1053.6 904.3,1044.4 909.5,1002.2 914.7,979.9 919.8,1000.1 925.0,1034.8 930.2,1036.5 935.3,1009.9 940.5,1000.7 945.7,1021.9 950.8,1041.7 956.0,1046.9 961.2,1047.7 966.3,1040.7 971.5,1020.9 976.7,1008.8 981.8,1011.5 987.0,1026.7 992.2,1052.1 997.3,1065.0 1002.5,1046.9 1007.6,1019.4 1012.8,1005.3 1018.0,998.7 1023.1,998.0 1028.3,1013.6 1033.5,1045.4 1038.6,1066.9 1043.8,1053.1 1049.0,1023.6 1054.1,1003.6 1059.3,1001.1 1064.5,1016.7 1069.6,1048.4 1074.8,1060.0 1080.0,1028.2 1085.1,1002.2 1090.3,1016.7 1095.5,1023.4 1100.6,1013.2 1105.8,1024.0 1111.0,1044.8 1116.1,1043.4 1121.3,1026.1 1126.5,1010.5 1131.6,1013.2 1136.8,1024.0 1142.0,1023.6 1147.1,1012.6 1152.3,1009.5 1157.4,1007.4 1162.6,995.9 1167.8,1005.3 1172.9,1049.0 1178.1,1073.9 1183.3,1069.2 1188.4,1066.2 1193.6,1070.8 1198.8,1057.3 1203.9,1028.2 1209.1,994.9 1214.3,976.2 1219.4,994.9 1224.6,1050.0 1229.8,1076.4 1234.9,1042.7 1240.1,1010.1 1245.3,1014.2 1250.4,1019.2 1255.6,1012.6 1260.8,1014.0 1265.9,1010.9 1271.1,988.7 1276.3,966.2 1281.4,964.1 1286.6,981.4 1291.7,1006.8 1296.9,1031.9 1302.1,1042.7 1307.2,1040.0 1312.4,1049.0 1317.6,1070.4 1322.7,1079.1 1327.9,1070.4 1333.1,1049.0 1338.2,1018.8 1343.4,1009.1 1348.6,1028.2 1353.7,1034.4 1358.9,1017.8 1364.1,1012.2 1369.2,1034.0 1374.4,1052.5 1379.6,1040.7 1384.7,1021.9 1389.9,1014.2 1395.1,1023.6 1400.2,1032.3 1405.4,1022.6 1410.6,1007.0 1415.7,1007.8 1420.9,1023.6 1426.0,1039.0 1431.2,1037.5 1436.4,1039.6 1441.5,1058.3 1446.7,1060.0 1451.9,1038.2 1457.0,1030.3 1462.2,1039.2 1467.4,1030.9 1472.5,1010.1 1477.7,1008.0 1482.9,1016.7 1488.0,1003.2 1493.2,988.7 1498.4,1003.2 1503.5,1017.8 1508.7,999.1 1513.9,980.4 1519.0,999.1 1524.2,1026.1 1529.4,1021.9 1534.5,1009.9 1539.7,1016.1 1544.9,1033.4 1550.0,1038.0 1555.2,1017.2 1560.4,1008.0 1565.5,1033.4 1570.7,1054.2 1575.8,1042.1 1581.0,1028.2 1586.2,1025.1 1591.3,1034.0 1596.5,1057.3 1601.7,1069.4 1606.8,1046.9 1612.0,1021.3 1617.2,1020.5 1622.3,1033.8 1627.5,1042.7 1632.7,1034.4 1637.8,1011.1 1643.0,995.9 1648.2,1005.9 1653.3,1015.7 1658.5,1003.9 1663.7,994.3 1668.8,1008.4 1674.0,1027.6 1679.2,1035.5 1684.3,1033.8 1689.5,1025.7 1694.7,1028.8 1699.8,1048.4 1705.0,1052.1 1710.1,1038.6 1715.3,1040.2 1720.5,1045.9 1725.6,1040.0 1730.8,1046.9 1736.0,1056.9 1741.1,1035.9 1746.3,1015.1 1751.5,1013.2 1756.6,1009.5 1761.8,1000.5 1767.0,1005.9 1772.1,1001.8 1777.3,982.4 1782.5,987.2 1787.6,1010.1 1792.8,1017.4 1798.0,1024.6 1803.1,1038.6 1808.3,1036.1 1813.5,1030.3 1818.6,1040.2 1823.8,1049.0 1829.0,1040.7 1834.1,1031.9 1839.3,1042.7 1844.4,1060.4 1849.6,1051.1 1854.8,1030.9 1859.9,1035.5 1865.1,1051.1 1870.3,1045.4 1875.4,1018.8 1880.6,1004.9 1885.8,1019.9 1890.9,1032.8 1896.1,1022.4 1901.3,1013.6 1906.4,1010.1 1911.6,1006.3 1916.8,1013.6 1921.9,1026.7 1927.1,1028.8 1932.3,1017.4 1937.4,1008.0 1942.6,1012.6 1947.8,1023.0 1952.9,1020.5 1958.1,1008.4 1963.3,1004.1 1968.4,1016.7 1973.6,1031.9 1978.8,1031.5 1983.9,1023.6 1989.1,1028.2 1994.2,1038.6 1999.4,1031.3 2004.6,1012.6 2009.7,1010.5 2014.9,1025.7 2020.1,1034.8 2025.2,1034.4 2030.4,1027.1 2035.6,1015.7 2040.7,1015.1 2045.9,1027.1 2051.1,1035.9 2056.2,1031.3 2061.4,1018.8 2066.6,1015.7 2071.7,1021.5 2076.9,1018.8 2082.1,1016.1 2087.2,1027.6 2092.4,1032.3 2097.6,1020.3 2102.7,1013.2 2107.9,1018.8 2113.1,1028.2 2114.2,1028.2" stroke="#484848"/>
<polyline points="302.3,1141.5 305.8,1141.5 310.9,1138.6 316.1,1139.0 321.3,1137.6 326.4,1131.3 331.6,1129.0 336.8,1135.3 341.9,1139.4 347.1,1136.9 352.3,1137.8 357.4,1139.6 362.6,1135.9 367.7,1133.2 372.9,1138.0 378.1,1144.8 383.2,1145.7 388.4,1138.0 393.6,1130.7 398.7,1131.5 403.9,1138.0 409.1,1142.6 414.2,1141.7 419.4,1138.0 424.6,1137.4 429.7,1139.6 434.9,1136.3 440.1,1132.8 445.2,1138.4 450.4,1143.6 455.6,1138.6 460.7,1131.1 465.9,1130.3 471.1,1132.8 476.2,1136.3 481.4,1143.6 486.6,1144.0 491.7,1129.7 496.9,1117.2 502.0,1124.5 507.2,1141.7 512.4,1146.9 517.5,1136.3 522.7,1134.4 527.9,1150.0 533.0,1158.2 538.2,1142.1 543.4,1129.7 548.5,1143.6 553.7,1157.1 558.9,1141.7 564.0,1130.7 569.2,1139.0 574.4,1139.9 579.5,1125.5 584.7,1120.3 589.9,1131.7 595.0,1145.9 600.2,1141.5 605.4,1130.7 610.5,1135.3 615.7,1144.2 620.9,1142.1 626.0,1139.0 631.2,1141.5 636.3,1149.4 641.5,1156.9 646.7,1145.3 651.8,1131.3 657.0,1128.6 662.2,1126.5 667.3,1120.9 672.5,1129.7 677.7,1143.6 682.8,1149.0 688.0,1143.8 693.2,1137.4 698.3,1135.9 703.5,1136.9 708.7,1130.1 713.8,1123.4 719.0,1132.2 724.2,1145.3 729.3,1147.8 734.5,1149.8 739.7,1154.2 744.8,1144.2 750.0,1128.6 755.2,1124.1 760.3,1129.7 765.5,1139.0 770.7,1141.7 775.8,1134.2 781.0,1131.7 786.1,1143.2 791.3,1153.2 796.5,1144.8 801.6,1133.8 806.8,1136.5 812.0,1145.7 817.1,1144.6 822.3,1136.3 827.5,1140.1 832.6,1150.5 837.8,1144.2 843.0,1132.2 848.1,1133.8 853.3,1137.4 858.5,1133.8 863.6,1131.7 868.8,1131.7 874.0,1133.2 879.1,1135.9 884.3,1141.5 889.5,1147.5 894.6,1139.6 899.8,1125.5 905.0,1122.4 910.1,1120.3 915.3,1106.2 920.4,1099.5 925.6,1109.9 930.8,1120.3 935.9,1129.7 941.1,1150.5 946.3,1173.8 951.4,1181.2 956.6,1184.2 961.8,1190.4 966.9,1186.2 972.1,1161.9 977.3,1139.0 982.4,1130.3 987.6,1138.6 992.8,1146.7 997.9,1137.4 1003.1,1119.3 1008.3,1109.9 1013.4,1108.2 1018.6,1104.7 1023.8,1095.4 1028.9,1089.7 1034.1,1092.6 1039.3,1098.5 1044.4,1110.9 1049.6,1136.9 1054.7,1158.8 1059.9,1156.7 1065.1,1155.0 1070.2,1178.5 1075.4,1199.7 1080.6,1182.7 1085.7,1158.8 1090.9,1157.7 1096.1,1160.9 1101.2,1147.3 1106.4,1130.3 1111.6,1117.6 1116.7,1110.9 1121.9,1112.4 1127.1,1114.7 1132.2,1109.3 1137.4,1110.9 1142.6,1133.8 1147.7,1156.3 1152.9,1156.7 1158.1,1155.2 1163.2,1161.9 1168.4,1162.5 1173.6,1156.1 1178.7,1156.7 1183.9,1158.8 1189.0,1147.3 1194.2,1135.9 1199.4,1143.2 1204.5,1145.9 1209.7,1126.5 1214.9,1118.2 1220.0,1129.2 1225.2,1121.3 1230.4,1098.5 1235.5,1097.4 1240.7,1109.9 1245.9,1111.4 1251.0,1109.5 1256.2,1125.5 1261.4,1149.4 1266.5,1150.3 1271.7,1131.7 1276.9,1121.8 1282.0,1120.9 1287.2,1125.5 1292.4,1142.1 1297.5,1162.5 1302.7,1172.9 1307.9,1170.2 1313.0,1164.6 1318.2,1151.5 1323.4,1138.0 1328.5,1142.6 1333.7,1153.0 1338.8,1143.2 1344.0,1127.0 1349.2,1132.8 1354.3,1152.5 1359.5,1161.9 1364.7,1157.1 1369.8,1151.5 1375.0,1144.2 1380.2,1128.6 1385.3,1112.0 1390.5,1110.9 1395.7,1117.2 1400.8,1118.6 1406.0,1120.3 1411.2,1128.2 1416.3,1139.0 1421.5,1140.1 1426.7,1130.7 1431.8,1124.1 1437.0,1120.9 1442.2,1123.0 1447.3,1138.6 1452.5,1156.3 1457.7,1165.4 1462.8,1168.1 1468.0,1175.8 1473.1,1179.2 1478.3,1156.7 1483.5,1135.5 1488.6,1134.9 1493.8,1144.6 1499.0,1137.4 1504.1,1120.9 1509.3,1115.7 1514.5,1120.3 1519.6,1124.5 1524.8,1126.1 1530.0,1122.4 1535.1,1116.8 1540.3,1116.1 1545.5,1120.3 1550.6,1126.1 1555.8,1133.8 1561.0,1138.6 1566.1,1134.9 1571.3,1132.8 1576.5,1139.0 1581.6,1150.0 1586.8,1159.2 1592.0,1157.1 1597.1,1146.3 1602.3,1138.0 1607.4,1143.2 1612.6,1155.2 1617.8,1157.1 1622.9,1150.5 1628.1,1151.5 1633.3,1152.5 1638.4,1140.1 1643.6,1127.6 1648.8,1130.1 1653.9,1138.6 1659.1,1142.1 1664.3,1138.6 1669.4,1127.6 1674.6,1119.3 1679.8,1127.6 1684.9,1144.2 1690.1,1146.7 1695.3,1138.0 1700.4,1137.8 1705.6,1138.6 1710.8,1132.8 1715.9,1136.9 1721.1,1149.0 1726.3,1149.8 1731.4,1143.8 1736.6,1145.3 1741.8,1144.2 1746.9,1129.7 1752.1,1116.1 1757.2,1123.4 1762.4,1136.1 1767.6,1134.9 1772.7,1133.8 1777.9,1141.7 1783.1,1138.0 1788.2,1126.5 1793.4,1124.9 1798.6,1125.5 1803.7,1127.2 1808.9,1133.8 1814.1,1135.9 1819.2,1129.7 1824.4,1124.9 1829.6,1127.6 1834.7,1138.0 1839.9,1146.7 1845.1,1146.9 1850.2,1141.1 1855.4,1135.9 1860.6,1133.8 1865.7,1131.7 1870.9,1133.8 1876.1,1151.5 1881.2,1168.1 1886.4,1159.4 1891.5,1138.0 1896.7,1129.0 1901.9,1138.0 1907.0,1150.9 1912.2,1156.1 1917.4,1150.9 1922.5,1135.9 1927.7,1124.9 1932.9,1138.6 1938.0,1156.1 1943.2,1146.3 1948.4,1129.2 1953.5,1134.9 1958.7,1147.8 1963.9,1141.5 1969.0,1125.1 1974.2,1120.9 1979.4,1132.8 1984.5,1145.3 1989.7,1141.7 1994.9,1128.2 2000.0,1128.2 2005.2,1138.6 2010.4,1139.6 2015.5,1133.8 2020.7,1135.5 2025.8,1139.0 2031.0,1140.7 2036.2,1138.0 2041.3,1133.8 2046.5,1131.7 2051.7,1138.0 2056.8,1150.0 2062.0,1152.5 2067.2,1139.0 2072.3,1127.6 2077.5,1133.2 2082.7,1146.7 2087.8,1145.3 2093.0,1132.4 2098.2,1131.3 2103.3,1144.2 2108.5,1153.2 2113.7,1149.8" stroke="#484848"/>
<polyline points="302.1,1249.0 307.3,1250.5 312.5,1251.7 317.6,1249.9 322.8,1247.4 328.0,1246.9 333.1,1249.4 338.3,1252.1 343.4,1251.7 348.6,1249.4 353.8,1249.2 358.9,1250.7 364.1,1249.4 369.3,1248.0 374.4,1251.1 379.6,1254.8 384.8,1255.7 389.9,1252.6 395.1,1249.6 400.3,1249.4 405.4,1248.6 410.6,1245.7 415.8,1244.9 420.9,1248.6 426.1,1252.1 431.3,1251.9 436.4,1251.5 441.6,1252.6 446.8,1253.0 451.9,1251.1 457.1,1248.6 462.3,1247.8 467.4,1247.4 472.6,1246.3 477.8,1246.9 482.9,1251.1 488.1,1254.0 493.2,1253.6 498.4,1251.9 503.6,1250.3 508.7,1248.4 513.9,1246.9 519.1,1248.6 524.2,1253.6 529.4,1255.7 534.6,1251.1 539.7,1246.9 544.9,1248.4 550.1,1250.7 555.2,1251.9 560.4,1253.0 565.6,1253.6 570.7,1250.1 575.9,1244.4 581.1,1241.1 586.2,1243.2 591.4,1246.5 596.6,1246.9 601.7,1246.3 606.9,1249.4 612.1,1256.3 617.2,1261.5 622.4,1258.4 627.5,1253.2 632.7,1250.7 637.9,1249.4 643.0,1248.0 648.2,1246.9 653.4,1246.3 658.5,1246.5 663.7,1247.6 668.9,1246.9 674.0,1245.3 679.2,1246.5 684.4,1250.1 689.5,1251.7 694.7,1251.7 699.9,1252.8 705.0,1254.8 710.2,1257.3 715.4,1258.8 720.5,1256.3 725.7,1248.4 730.9,1240.1 736.0,1238.2 741.2,1247.6 746.4,1256.9 751.5,1255.3 756.7,1244.9 761.8,1236.1 767.0,1238.0 772.2,1246.9 777.3,1251.9 782.5,1252.8 787.7,1252.1 792.8,1249.0 798.0,1245.7 803.2,1245.9 808.3,1248.0 813.5,1248.6 818.7,1249.0 823.8,1249.6 829.0,1253.8 834.2,1260.9 839.3,1262.1 844.5,1255.9 849.7,1251.1 854.8,1251.7 860.0,1255.7 865.2,1256.3 870.3,1249.0 875.5,1241.7 880.7,1242.2 885.8,1246.5 891.0,1251.1 896.2,1252.8 901.3,1253.6 906.5,1255.9 911.6,1254.6 916.8,1246.9 922.0,1244.9 927.1,1251.1 932.3,1254.8 937.5,1253.6 942.6,1253.6 947.8,1254.6 953.0,1256.3 958.1,1260.0 963.3,1262.5 968.5,1256.3 973.6,1243.8 978.8,1233.4 984.0,1226.1 989.1,1225.1 994.3,1229.3 999.5,1234.5 1004.6,1240.1 1009.8,1248.0 1015.0,1259.4 1020.1,1271.9 1025.3,1281.7 1030.5,1285.8 1035.6,1281.7 1040.8,1267.3 1045.9,1245.9 1051.1,1222.0 1056.3,1203.3 1061.4,1190.8 1066.6,1188.7 1071.8,1200.2 1076.9,1220.9 1082.1,1243.8 1087.3,1262.5 1092.4,1275.0 1097.6,1280.2 1102.8,1280.2 1107.9,1277.1 1113.1,1270.9 1118.3,1264.2 1123.4,1260.9 1128.6,1260.9 1133.8,1262.5 1138.9,1264.6 1144.1,1266.1 1149.3,1267.1 1154.4,1265.2 1159.6,1259.4 1164.8,1252.6 1169.9,1245.9 1175.1,1238.2 1180.2,1230.3 1185.4,1226.1 1190.6,1228.2 1195.7,1233.4 1200.9,1239.7 1206.1,1248.0 1211.2,1258.4 1216.4,1266.1 1221.6,1270.4 1226.7,1267.7 1231.9,1261.5 1237.1,1257.8 1242.2,1254.2 1247.4,1244.9 1252.6,1237.0 1257.7,1237.2 1262.9,1242.8 1268.1,1245.7 1273.2,1245.3 1278.4,1244.4 1283.6,1243.4 1288.7,1242.2 1293.9,1241.7 1299.1,1244.2 1304.2,1248.6 1309.4,1250.1 1314.6,1248.0 1319.7,1245.9 1324.9,1247.4 1330.0,1251.5 1335.2,1255.3 1340.4,1256.5 1345.5,1256.9 1350.7,1259.0 1355.9,1259.4 1361.0,1255.9 1366.2,1253.6 1371.4,1255.1 1376.5,1256.7 1381.7,1254.8 1386.9,1252.1 1392.0,1249.0 1397.2,1243.8 1402.4,1238.0 1407.5,1235.5 1412.7,1236.5 1417.9,1240.1 1423.0,1242.2 1428.2,1244.4 1433.4,1249.4 1438.5,1255.7 1443.7,1258.0 1448.9,1254.2 1454.0,1250.7 1459.2,1250.3 1464.3,1250.1 1469.5,1246.3 1474.7,1242.2 1479.8,1239.2 1485.0,1238.2 1490.2,1241.3 1495.3,1248.0 1500.5,1253.8 1505.7,1258.2 1510.8,1260.9 1516.0,1261.7 1521.2,1261.9 1526.3,1262.7 1531.5,1263.6 1536.7,1263.8 1541.8,1261.5 1547.0,1257.3 1552.2,1255.5 1557.3,1255.1 1562.5,1254.6 1567.7,1252.8 1572.8,1249.6 1578.0,1246.5 1583.2,1243.8 1588.3,1241.3 1593.5,1237.6 1598.6,1233.4 1603.8,1232.6 1609.0,1234.9 1614.1,1236.5 1619.3,1240.7 1624.5,1249.0 1629.6,1252.1 1634.8,1249.9 1640.0,1250.3 1645.1,1254.2 1650.3,1255.9 1655.5,1254.2 1660.6,1251.1 1665.8,1250.1 1671.0,1252.1 1676.1,1255.9 1681.3,1258.4 1686.5,1259.0 1691.6,1255.3 1696.8,1248.4 1702.0,1244.4 1707.1,1245.9 1712.3,1248.4 1717.5,1252.6 1722.6,1256.9 1727.8,1256.9 1732.9,1252.1 1738.1,1249.4 1743.3,1248.6 1748.4,1246.9 1753.6,1246.1 1758.8,1247.4 1763.9,1248.6 1769.1,1248.4 1774.3,1248.2 1779.4,1249.6 1784.6,1250.7 1789.8,1248.6 1794.9,1245.9 1800.1,1246.9 1805.3,1247.8 1810.4,1246.9 1815.6,1248.4 1820.8,1253.8 1825.9,1258.8 1831.1,1261.5 1836.3,1259.8 1841.4,1252.6 1846.6,1244.4 1851.8,1240.7 1856.9,1240.3 1862.1,1242.4 1867.3,1243.6 1872.4,1243.0 1877.6,1243.0 1882.7,1244.4 1887.9,1245.9 1893.1,1248.6 1898.2,1252.4 1903.4,1255.1 1908.6,1255.5 1913.7,1252.6 1918.9,1249.6 1924.1,1252.8 1929.2,1256.9 1934.4,1258.0 1939.6,1256.3 1944.7,1254.6 1949.9,1253.8 1955.1,1253.8 1960.2,1251.7 1965.4,1249.0 1970.6,1248.0 1975.7,1245.9 1980.9,1243.8 1986.1,1244.2 1991.2,1247.4 1996.4,1252.1 2001.6,1253.4 2006.7,1249.6 2011.9,1248.8 2017.0,1251.5 2022.2,1249.4 2027.4,1245.9 2032.5,1248.6 2037.7,1251.7 2042.9,1251.7 2048.0,1250.1 2053.2,1247.6 2058.4,1244.9 2063.5,1244.2 2068.7,1246.1 2073.9,1247.8 2079.0,1248.6 2084.2,1249.4 2089.4,1250.7 2094.5,1252.8 2099.7,1254.8 2104.9,1254.8 2110.0,1252.8 2114.2,1252.8" stroke="#484848"/>
<polyline points="302.7,1366.9 307.9,1365.3 313.1,1360.7 318.2,1355.9 323.4,1360.7 328.6,1370.0 333.7,1372.1 338.9,1365.7 344.1,1358.6 349.2,1355.9 354.4,1360.1 359.6,1365.3 364.7,1366.7 369.9,1363.8 375.1,1360.5 380.2,1362.8 385.4,1366.3 390.6,1360.1 395.7,1352.2 400.9,1353.8 406.0,1361.7 411.2,1367.8 416.4,1368.4 421.5,1364.8 426.7,1360.5 431.9,1356.5 437.0,1355.5 442.2,1357.6 447.4,1360.7 452.5,1364.6 457.7,1368.6 462.9,1369.0 468.0,1365.7 473.2,1362.8 478.4,1361.7 483.5,1362.4 488.7,1363.2 493.9,1361.7 499.0,1360.7 504.2,1365.3 509.4,1368.2 514.5,1361.1 519.7,1353.8 524.9,1353.8 530.0,1360.5 535.2,1364.6 540.3,1363.2 545.5,1361.3 550.7,1363.6 555.8,1366.9 561.0,1366.7 566.2,1364.6 571.3,1362.8 576.5,1360.1 581.7,1357.6 586.8,1359.4 592.0,1363.2 597.2,1361.1 602.3,1356.3 607.5,1358.0 612.7,1362.1 617.8,1361.1 623.0,1360.1 628.2,1365.3 633.3,1373.6 638.5,1376.1 643.7,1370.0 648.8,1363.6 654.0,1360.7 659.2,1358.6 664.3,1355.3 669.5,1355.3 674.7,1361.7 679.8,1368.2 685.0,1367.3 690.1,1360.1 695.3,1352.8 700.5,1348.2 705.6,1353.2 710.8,1365.3 716.0,1368.4 721.1,1361.7 726.3,1359.6 731.5,1362.1 736.6,1364.0 741.8,1363.2 747.0,1361.5 752.1,1360.1 757.3,1358.0 762.5,1355.5 767.6,1357.4 772.8,1358.6 778.0,1362.1 783.1,1372.5 788.3,1378.4 793.5,1372.5 798.6,1366.9 803.8,1365.7 809.0,1363.2 814.1,1360.9 819.3,1361.1 824.4,1360.5 829.6,1358.0 834.8,1354.4 839.9,1354.2 845.1,1361.7 850.3,1368.4 855.4,1363.2 860.6,1357.6 865.8,1362.6 870.9,1365.7 876.1,1359.4 881.3,1356.1 886.4,1360.7 891.6,1364.8 896.8,1367.3 901.9,1367.3 907.1,1360.5 912.3,1348.2 917.4,1340.3 922.6,1342.0 927.8,1346.5 932.9,1343.4 938.1,1338.2 943.3,1337.2 948.4,1345.5 953.6,1365.3 958.7,1390.2 963.9,1406.2 969.1,1413.1 974.2,1418.7 979.4,1423.9 984.6,1416.2 989.7,1395.0 994.9,1369.4 1000.1,1346.5 1005.2,1329.9 1010.4,1317.4 1015.6,1317.8 1020.7,1327.8 1025.9,1338.2 1031.1,1343.6 1036.2,1342.0 1041.4,1337.2 1046.6,1334.1 1051.7,1334.7 1056.9,1340.9 1062.1,1348.6 1067.2,1356.5 1072.4,1364.6 1077.6,1370.5 1082.7,1375.2 1087.9,1382.3 1093.1,1386.3 1098.2,1382.3 1103.4,1383.6 1108.5,1390.8 1113.7,1388.1 1118.9,1376.7 1124.0,1366.3 1129.2,1358.0 1134.4,1354.9 1139.5,1360.7 1144.7,1363.8 1149.9,1360.7 1155.0,1365.3 1160.2,1376.7 1165.4,1381.5 1170.5,1372.1 1175.7,1359.0 1180.9,1350.1 1186.0,1346.5 1191.2,1345.5 1196.4,1346.1 1201.5,1347.6 1206.7,1349.7 1211.9,1353.8 1217.0,1361.1 1222.2,1365.9 1227.4,1362.8 1232.5,1358.2 1237.7,1358.0 1242.8,1362.6 1248.0,1368.0 1253.2,1371.5 1258.3,1371.1 1263.5,1370.5 1268.7,1368.0 1273.8,1361.1 1279.0,1359.0 1284.2,1366.3 1289.3,1369.0 1294.5,1360.1 1299.7,1354.4 1304.8,1355.9 1310.0,1360.1 1315.2,1364.2 1320.3,1368.0 1325.5,1367.3 1330.7,1361.7 1335.8,1353.4 1341.0,1346.5 1346.2,1345.1 1351.3,1347.2 1356.5,1351.1 1361.7,1356.5 1366.8,1361.5 1372.0,1362.4 1377.1,1362.6 1382.3,1366.3 1387.5,1371.5 1392.6,1374.0 1397.8,1372.5 1403.0,1369.8 1408.1,1365.3 1413.3,1358.0 1418.5,1352.4 1423.6,1351.3 1428.8,1350.1 1434.0,1347.6 1439.1,1353.8 1444.3,1367.3 1449.5,1376.1 1454.6,1377.7 1459.8,1378.2 1465.0,1378.8 1470.1,1379.0 1475.3,1377.7 1480.5,1376.7 1485.6,1374.2 1490.8,1368.0 1496.0,1365.3 1501.1,1366.5 1506.3,1366.1 1511.4,1364.2 1516.6,1360.1 1521.8,1352.8 1526.9,1350.1 1532.1,1355.5 1537.3,1358.4 1542.4,1350.3 1547.6,1343.8 1552.8,1345.9 1557.9,1348.6 1563.1,1346.5 1568.3,1346.5 1573.4,1354.9 1578.6,1364.6 1583.8,1365.3 1588.9,1357.4 1594.1,1353.8 1599.3,1359.4 1604.4,1365.7 1609.6,1363.2 1614.8,1359.2 1619.9,1362.6 1625.1,1368.8 1630.3,1373.4 1635.4,1372.7 1640.6,1370.9 1645.8,1369.8 1650.9,1368.0 1656.1,1366.3 1661.2,1365.3 1666.4,1362.8 1671.6,1364.6 1676.7,1372.5 1681.9,1375.0 1687.1,1366.9 1692.2,1358.6 1697.4,1356.1 1702.6,1358.0 1707.7,1358.6 1712.9,1355.3 1718.1,1353.2 1723.2,1352.8 1728.4,1353.8 1733.6,1358.0 1738.7,1364.2 1743.9,1370.0 1749.1,1371.9 1754.2,1366.3 1759.4,1358.4 1764.6,1353.6 1769.7,1355.3 1774.9,1362.1 1780.1,1368.8 1785.2,1369.4 1790.4,1365.3 1795.5,1360.7 1800.7,1356.9 1805.9,1354.4 1811.0,1354.9 1816.2,1359.0 1821.4,1362.8 1826.5,1362.6 1831.7,1360.7 1836.9,1360.3 1842.0,1361.1 1847.2,1363.2 1852.4,1369.4 1857.5,1375.9 1862.7,1375.7 1867.9,1367.3 1873.0,1359.0 1878.2,1357.8 1883.4,1363.8 1888.5,1367.3 1893.7,1365.7 1898.9,1363.6 1904.0,1363.2 1909.2,1365.7 1914.4,1367.3 1919.5,1363.2 1924.7,1358.4 1929.8,1355.9 1935.0,1355.1 1940.2,1357.4 1945.3,1359.0 1950.5,1359.9 1955.7,1361.1 1960.8,1359.0 1966.0,1353.8 1971.2,1353.8 1976.3,1360.1 1981.5,1363.0 1986.7,1359.9 1991.8,1359.6 1997.0,1361.7 2002.2,1357.8 2007.3,1356.3 2012.5,1363.6 2017.7,1366.9 2022.8,1361.1 2028.0,1359.4 2033.2,1363.0 2038.3,1363.8 2043.5,1365.1 2048.7,1369.4 2053.8,1367.8 2059.0,1361.7 2064.2,1363.6 2069.3,1364.8 2074.5,1358.4 2079.6,1355.7 2084.8,1360.5 2090.0,1362.6 2095.1,1359.0 2100.3,1356.9 2105.5,1360.1 2110.6,1364.2 2114.2,1364.2" stroke="#484848"/>
<polyline points="302.3,243.2 306.4,243.2 311.5,250.1 316.7,248.6 321.9,244.9 332.2,251.1 342.5,240.7 347.7,242.2 352.9,246.1 358.0,246.9 363.2,243.2 368.4,234.5 373.5,230.9 378.7,235.1 383.9,235.9 389.0,231.6 394.2,231.3 399.4,236.1 404.5,239.7 414.8,238.6 420.0,240.1 425.2,243.4 430.3,242.4 435.5,234.1 440.7,231.8 445.8,239.0 451.0,243.2 456.2,239.7 461.3,236.5 466.5,235.9 471.7,237.6 476.8,240.7 482.0,241.3 487.2,242.8 492.3,246.9 497.5,247.6 502.7,245.3 507.8,243.6 513.0,239.2 518.2,230.3 523.3,226.6 528.5,235.5 533.7,245.9 538.8,247.4 549.1,236.5 554.3,237.2 559.5,245.5 564.6,248.0 569.8,242.8 575.0,238.8 580.1,238.4 590.5,236.5 595.6,237.6 600.8,242.2 606.0,245.5 611.1,242.8 616.3,237.0 621.5,234.9 626.6,238.6 631.8,243.4 637.0,246.9 642.1,247.4 647.3,242.8 652.5,238.8 657.6,242.4 662.8,247.4 668.0,250.1 673.1,242.8 678.3,234.1 683.5,235.5 688.6,245.9 693.8,249.6 698.9,241.7 704.1,235.1 709.3,238.6 714.4,242.8 719.6,240.1 724.8,235.7 729.9,235.9 735.1,242.2 740.3,250.1 745.4,252.1 750.6,243.8 755.8,237.6 760.9,241.3 766.1,249.0 771.3,255.9 776.4,259.4 781.6,251.7 786.8,235.9 791.9,225.5 797.1,227.2 802.3,234.1 807.4,244.4 812.6,250.1 817.8,243.8 822.9,237.0 828.1,237.2 833.2,242.4 838.4,246.3 843.6,245.3 848.7,241.7 853.9,235.5 859.1,229.1 864.2,228.6 869.4,237.6 874.6,252.6 879.7,259.8 884.9,251.5 890.1,241.3 895.2,239.7 900.4,243.8 905.6,244.9 910.7,241.3 915.9,237.2 921.1,234.9 926.2,234.5 931.4,232.4 936.6,229.9 941.7,233.8 946.9,239.7 952.1,244.2 957.2,252.1 962.4,256.7 967.5,247.4 972.7,231.8 977.9,227.2 983.0,237.6 988.2,245.9 993.4,241.7 998.5,237.2 1003.7,239.7 1008.9,245.3 1014.0,250.1 1019.2,250.1 1024.4,247.4 1029.5,245.9 1034.7,242.4 1039.9,236.1 1045.0,232.8 1050.2,232.8 1055.4,235.5 1060.5,238.6 1065.7,240.7 1070.9,243.8 1076.0,248.0 1081.2,251.1 1086.4,253.8 1091.5,255.7 1096.7,252.8 1101.9,242.8 1107.0,237.0 1112.2,239.7 1117.3,240.1 1122.5,238.0 1127.7,238.0 1132.8,236.5 1138.0,231.3 1143.2,223.4 1148.3,211.0 1153.5,199.7 1158.7,196.6 1163.8,202.9 1169.0,213.7 1174.2,226.1 1179.3,232.4 1184.5,238.2 1189.7,252.6 1194.8,267.7 1200.0,272.5 1205.2,271.5 1210.3,272.3 1215.5,274.4 1220.7,281.7 1225.8,294.2 1231.0,302.7 1236.2,299.3 1241.3,282.9 1246.5,253.2 1251.6,220.9 1256.8,197.0 1262.0,186.2 1267.1,189.1 1272.3,197.7 1277.5,207.4 1282.6,218.2 1287.8,227.8 1293.0,233.8 1298.1,235.1 1303.3,236.5 1308.5,243.8 1313.6,252.6 1318.8,256.3 1324.0,264.6 1329.1,279.2 1334.3,281.9 1339.5,271.9 1344.6,265.2 1349.8,260.5 1355.0,251.7 1360.1,242.4 1365.3,228.9 1370.5,213.0 1375.6,206.8 1380.8,208.9 1385.9,203.9 1391.1,202.6 1396.3,216.8 1401.4,233.0 1406.6,240.1 1411.8,241.5 1416.9,241.7 1422.1,242.4 1427.3,245.3 1432.4,248.6 1437.6,253.2 1442.8,256.9 1447.9,256.7 1453.1,254.8 1458.3,250.1 1463.4,241.7 1468.6,237.2 1473.8,240.7 1478.9,242.8 1484.1,237.6 1489.3,230.3 1494.4,226.6 1499.6,230.3 1504.8,236.1 1509.9,238.2 1515.1,236.1 1520.3,237.0 1525.4,240.3 1530.6,242.4 1535.7,243.2 1540.9,244.9 1546.1,242.2 1551.2,238.2 1556.4,243.8 1561.6,254.6 1566.7,254.2 1571.9,243.2 1577.1,238.6 1582.2,246.5 1587.4,249.0 1592.6,238.0 1597.7,230.3 1602.9,237.0 1608.1,245.9 1613.2,246.3 1618.4,237.6 1623.6,229.7 1628.7,236.5 1633.9,250.5 1639.1,250.5 1644.2,241.7 1649.4,239.7 1654.6,244.2 1659.7,243.4 1664.9,238.0 1670.0,232.0 1675.2,226.1 1680.4,228.9 1685.5,238.6 1690.7,241.1 1695.9,237.0 1701.0,240.1 1706.2,248.4 1711.4,251.1 1716.5,248.4 1721.7,245.9 1726.9,248.4 1732.0,252.1 1737.2,248.6 1742.4,242.8 1747.5,242.4 1752.7,245.5 1757.9,249.6 1763.0,249.9 1768.2,245.9 1773.4,242.4 1778.5,240.7 1783.7,242.8 1788.9,244.4 1794.0,239.7 1799.2,231.8 1804.3,230.7 1809.5,236.5 1814.7,239.2 1819.8,236.5 1825.0,233.8 1830.2,236.5 1835.3,242.4 1840.5,243.2 1845.7,237.0 1850.8,232.4 1856.0,232.0 1861.2,234.5 1866.3,241.7 1871.5,251.5 1876.7,255.7 1881.8,249.4 1887.0,243.2 1892.2,245.9 1897.3,251.5 1902.5,249.6 1907.7,242.4 1912.8,239.7 1918.0,240.1 1923.2,236.1 1928.3,231.6 1933.5,234.5 1938.6,240.7 1943.8,242.2 1949.0,238.2 1954.1,236.1 1959.3,237.2 1964.5,237.0 1969.6,239.7 1974.8,247.4 1980.0,249.0 1985.1,242.8 1990.3,240.1 1995.5,242.4 2000.6,245.5 2005.8,249.6 2011.0,254.6 2016.1,253.6 2021.3,245.3 2026.5,241.1 2031.6,240.3 2036.8,235.5 2042.0,229.3 2047.1,234.1 2052.3,243.4 2057.5,243.2 2062.6,234.1 2067.8,228.6 2073.0,227.8 2078.1,233.4 2083.3,243.8 2088.4,246.9 2093.6,237.2 2098.8,227.6 2103.9,228.9 2109.1,242.8 2114.3,251.5" stroke="#0000ff"/>
<polyline points="302.3,351.3 306.7,351.3 311.8,351.1 317.0,353.2 322.2,354.9 327.3,354.2 332.5,352.6 337.7,353.2 342.8,355.1 348.0,353.6 353.2,350.9 358.3,351.3 363.5,353.8 368.7,355.1 373.8,353.2 379.0,351.1 384.2,351.7 389.3,354.0 394.5,354.0 399.6,352.8 404.8,353.6 410.0,354.2 415.1,352.4 420.3,350.9 425.5,352.8 430.6,354.7 435.8,353.6 441.0,353.0 446.1,353.8 451.3,352.4 456.5,351.1 461.6,353.4 466.8,354.4 472.0,351.1 477.1,349.9 482.3,354.9 487.5,359.9 492.6,359.4 497.8,353.8 503.0,351.5 508.1,352.6 513.3,352.8 518.5,352.8 523.6,354.9 528.8,355.9 533.9,354.2 539.1,351.3 544.3,348.6 549.4,348.2 554.6,350.7 559.8,352.6 564.9,352.0 570.1,351.7 575.3,353.2 580.4,356.1 585.6,358.6 590.8,359.0 595.9,355.7 601.1,352.6 606.3,351.7 611.4,351.5 616.6,352.2 621.8,352.8 626.9,350.7 632.1,347.8 637.3,348.2 642.4,350.7 647.6,352.4 652.8,354.2 657.9,356.9 663.1,358.2 668.2,357.4 673.4,358.0 678.6,359.4 683.7,359.9 688.9,357.4 694.1,351.7 699.2,345.5 704.4,344.7 709.6,352.8 714.7,360.3 719.9,359.4 725.1,350.7 730.2,343.0 735.4,343.2 740.6,349.9 745.7,354.9 750.9,354.2 756.1,352.8 761.2,351.7 766.4,349.7 771.6,348.0 776.7,350.1 781.9,354.2 787.1,358.0 792.2,360.7 797.4,361.7 802.6,359.4 807.7,353.8 812.9,351.3 818.0,353.8 823.2,356.9 828.4,358.0 833.5,356.5 838.7,352.4 843.9,348.4 849.0,348.0 854.2,350.3 859.4,352.4 864.5,354.0 869.7,356.9 874.9,359.2 880.0,358.6 885.2,357.2 890.4,356.3 895.5,355.7 900.7,354.9 905.9,354.7 911.0,355.9 916.2,358.0 921.4,360.5 926.5,361.7 931.7,359.0 936.9,353.8 942.0,347.6 947.2,342.4 952.3,339.3 957.5,336.8 962.7,334.5 967.8,334.5 973.0,340.3 978.2,348.2 983.3,359.6 988.5,374.6 993.7,387.7 998.8,390.2 1004.0,379.8 1009.2,363.2 1014.3,341.3 1019.5,317.4 1024.7,299.8 1029.8,291.4 1035.0,293.9 1040.2,309.1 1045.3,332.0 1050.5,352.8 1055.7,368.8 1060.8,380.9 1066.0,388.1 1071.2,388.1 1076.3,382.9 1081.5,375.7 1086.6,369.8 1091.8,367.3 1097.0,367.3 1102.1,367.8 1107.3,368.2 1112.5,367.8 1117.6,365.7 1122.8,362.6 1128.0,359.6 1133.1,356.9 1138.3,351.7 1143.5,343.4 1148.6,335.1 1153.8,329.3 1159.0,327.4 1164.1,329.9 1169.3,335.7 1174.5,345.5 1179.6,358.0 1184.8,368.4 1190.0,373.0 1195.1,372.5 1200.3,369.4 1205.5,363.2 1210.6,353.8 1215.8,347.0 1221.0,344.3 1226.1,343.8 1231.3,343.8 1236.4,344.5 1241.6,346.5 1246.8,349.9 1251.9,353.0 1257.1,352.6 1262.3,351.3 1267.4,351.5 1272.6,350.9 1277.8,349.5 1282.9,351.7 1288.1,356.1 1293.3,355.7 1298.4,352.0 1303.6,351.1 1308.8,354.2 1313.9,358.6 1319.1,361.7 1324.3,361.9 1329.4,360.1 1334.6,358.8 1339.8,359.6 1344.9,360.1 1350.1,358.2 1355.3,353.2 1360.4,346.5 1365.6,341.8 1370.7,340.1 1375.9,340.1 1381.1,341.6 1386.2,344.1 1391.4,347.2 1396.6,352.8 1401.7,360.7 1406.9,364.8 1412.1,363.2 1417.2,359.6 1422.4,357.4 1427.6,353.6 1432.7,348.0 1437.9,344.7 1443.1,345.1 1448.2,345.9 1453.4,346.3 1458.6,347.6 1463.7,351.3 1468.9,356.3 1474.1,359.2 1479.2,359.9 1484.4,361.7 1489.6,365.9 1494.7,368.2 1499.9,366.1 1505.0,363.6 1510.2,360.7 1515.4,358.2 1520.5,357.6 1525.7,358.0 1530.9,356.5 1536.0,353.2 1541.2,349.0 1546.4,346.5 1551.5,346.3 1556.7,347.0 1561.9,345.9 1567.0,344.9 1572.2,345.1 1577.4,344.7 1582.5,343.6 1587.7,344.3 1592.9,346.1 1598.0,348.0 1603.2,350.1 1608.4,352.0 1613.5,352.4 1618.7,353.8 1623.9,358.0 1629.0,361.1 1634.2,358.6 1639.3,356.1 1644.5,359.0 1649.7,361.5 1654.8,360.3 1660.0,357.8 1665.2,356.5 1670.3,355.9 1675.5,355.7 1680.7,356.1 1685.8,354.9 1691.0,352.8 1696.2,351.1 1701.3,350.7 1706.5,352.2 1711.7,353.0 1716.8,352.4 1722.0,351.7 1727.2,351.3 1732.3,349.7 1737.5,348.6 1742.7,349.7 1747.8,351.5 1753.0,353.2 1758.2,354.2 1763.3,354.9 1768.5,356.9 1773.7,359.0 1778.8,359.0 1784.0,357.6 1789.1,356.5 1794.3,355.9 1799.5,353.6 1804.6,351.1 1809.8,349.0 1815.0,347.8 1820.1,347.2 1825.3,346.5 1830.5,344.9 1835.6,344.5 1840.8,346.1 1846.0,348.0 1851.1,349.5 1856.3,350.9 1861.5,353.4 1866.6,356.5 1871.8,359.0 1877.0,358.6 1882.1,357.6 1887.3,358.6 1892.5,360.1 1897.6,359.4 1902.8,357.4 1908.0,356.3 1913.1,356.1 1918.3,355.9 1923.4,354.9 1928.6,352.8 1933.8,351.7 1938.9,353.2 1944.1,354.4 1949.3,353.6 1954.4,351.5 1959.6,351.3 1964.8,353.0 1969.9,353.8 1975.1,353.2 1980.3,352.4 1985.4,352.0 1990.6,352.0 1995.8,352.4 2000.9,351.3 2006.1,348.0 2011.3,347.2 2016.4,350.7 2021.6,353.6 2026.8,351.7 2031.9,349.9 2037.1,351.7 2042.3,354.0 2047.4,354.4 2052.6,354.9 2057.7,356.3 2062.9,356.5 2068.1,354.7 2073.2,353.2 2078.4,353.6 2083.6,355.5 2088.7,356.5 2093.9,355.3 2099.1,353.6 2104.2,353.2 2114.6,353.2" stroke="#808080" transform="translate(0,1120.85)"/>
<polyline points="302.3,459.7 306.7,459.7 311.9,465.3 317.0,470.1 322.2,466.3 327.4,461.1 332.5,460.7 337.7,462.8 342.8,464.0 348.0,462.6 353.2,462.6 358.3,464.7 363.5,464.4 368.7,462.2 373.8,462.4 379.0,464.0 384.2,463.4 389.3,463.2 394.5,465.9 399.7,468.4 404.8,466.5 410.0,464.7 415.2,466.5 420.3,468.2 425.5,466.7 430.7,466.5 435.8,468.6 441.0,468.0 446.2,464.7 451.3,464.4 456.5,469.4 461.7,474.0 466.8,470.1 472.0,463.2 477.2,462.2 482.3,463.2 487.5,463.6 492.6,466.3 497.8,470.3 503.0,469.0 508.1,464.9 513.3,462.8 518.5,461.7 523.6,460.7 528.8,463.8 534.0,468.2 539.1,469.0 544.3,464.9 549.5,460.7 554.6,458.4 559.8,458.0 565.0,461.7 570.1,467.8 575.3,469.4 580.5,466.9 585.6,468.6 590.8,472.8 596.0,473.2 601.1,469.9 606.3,466.3 611.5,465.3 616.6,468.0 621.8,468.6 626.9,462.4 632.1,456.5 637.3,456.3 642.4,460.1 647.6,464.2 652.8,466.3 657.9,464.4 663.1,462.0 668.3,464.9 673.4,470.5 678.6,473.4 683.8,471.7 688.9,468.4 694.1,461.7 699.3,454.3 704.4,454.5 709.6,463.8 714.8,472.6 719.9,471.1 725.1,462.8 730.3,455.9 735.4,458.0 740.6,464.2 745.8,468.0 750.9,467.8 756.1,468.0 761.2,468.6 766.4,465.5 771.6,461.1 776.7,460.3 781.9,462.8 787.1,465.3 792.2,466.9 797.4,468.8 802.6,472.1 807.7,473.2 812.9,468.4 818.1,463.2 823.2,462.8 828.4,468.0 833.6,472.8 838.7,468.6 843.9,460.1 849.1,456.1 854.2,460.7 859.4,467.6 864.6,469.4 869.7,465.9 874.9,464.4 880.1,467.6 885.2,469.0 890.4,468.0 895.6,467.8 900.7,468.6 905.9,469.4 911.0,471.1 916.2,472.8 921.4,473.6 926.5,474.2 931.7,474.4 936.9,471.7 942.0,463.4 947.2,454.1 952.4,450.3 957.5,447.8 962.7,445.1 967.9,445.1 973.0,452.4 978.2,461.7 983.4,472.1 988.5,484.2 993.7,493.6 998.9,498.3 1004.0,492.9 1009.2,473.2 1014.4,450.3 1019.5,428.5 1024.7,413.3 1029.9,405.0 1035.0,403.5 1040.2,412.9 1045.3,434.7 1050.5,458.6 1055.7,479.4 1060.8,495.4 1066.0,506.9 1071.2,509.4 1076.3,503.3 1081.5,494.0 1086.7,484.6 1091.8,478.4 1097.0,474.6 1102.2,474.4 1107.3,479.8 1112.5,485.2 1117.7,484.8 1122.8,480.9 1128.0,477.8 1133.2,472.6 1138.3,458.6 1143.5,445.5 1148.7,440.7 1153.8,442.0 1159.0,443.4 1164.2,445.1 1169.3,450.3 1174.5,458.6 1179.6,466.9 1184.8,472.8 1190.0,478.8 1195.1,483.2 1200.3,481.5 1205.5,475.3 1210.6,468.0 1215.8,460.7 1221.0,452.0 1226.1,449.3 1231.3,454.9 1236.5,463.4 1241.6,468.2 1246.8,464.9 1252.0,460.7 1257.1,460.3 1262.3,462.0 1267.5,463.2 1272.6,464.4 1277.8,466.3 1283.0,469.0 1288.1,472.4 1293.3,474.4 1298.5,472.6 1303.6,467.4 1308.8,464.2 1314.0,466.3 1319.1,469.4 1324.3,471.1 1329.4,470.1 1334.6,468.0 1339.8,465.3 1344.9,462.8 1350.1,462.4 1355.3,463.4 1360.4,461.3 1365.6,457.2 1370.8,454.9 1375.9,455.7 1381.1,459.0 1386.3,461.3 1391.4,461.7 1396.6,463.2 1401.8,465.7 1406.9,468.6 1412.1,473.2 1417.3,475.3 1422.4,470.1 1427.6,463.8 1432.8,462.8 1437.9,466.3 1443.1,465.1 1448.3,458.2 1453.4,454.7 1458.6,457.6 1463.7,460.7 1468.9,463.2 1474.1,468.6 1479.2,474.8 1484.4,478.0 1489.6,478.8 1494.7,479.8 1499.9,479.4 1505.1,475.3 1510.2,471.5 1515.4,470.5 1520.6,468.6 1525.7,466.1 1530.9,463.2 1536.1,459.0 1541.2,455.7 1546.4,456.1 1551.6,457.6 1556.7,456.8 1561.9,455.3 1567.1,454.1 1572.2,452.4 1577.4,452.2 1582.6,455.5 1587.7,461.1 1592.9,465.5 1598.0,466.5 1603.2,466.7 1608.4,470.1 1613.5,475.9 1618.7,476.1 1623.9,472.8 1629.0,470.7 1634.2,469.4 1639.4,468.2 1644.5,467.2 1649.7,466.5 1654.9,465.9 1660.0,465.7 1665.2,466.3 1670.4,466.3 1675.5,463.2 1680.7,462.2 1685.9,465.3 1691.0,467.4 1696.2,465.5 1701.4,464.4 1706.5,466.9 1711.7,468.0 1716.9,465.9 1722.0,465.3 1727.2,467.2 1732.3,465.9 1737.5,462.0 1742.7,462.2 1747.8,465.9 1753.0,465.5 1758.2,462.4 1763.3,462.0 1768.5,463.6 1773.7,465.9 1778.8,468.2 1784.0,468.6 1789.2,467.6 1794.3,467.4 1799.5,466.9 1804.7,465.3 1809.8,462.8 1815.0,461.3 1820.2,462.8 1825.3,464.4 1830.5,463.2 1835.7,460.7 1840.8,458.8 1846.0,456.8 1851.2,455.9 1856.3,460.7 1861.5,465.1 1866.7,465.9 1871.8,466.3 1877.0,470.1 1882.1,474.0 1887.3,475.9 1892.5,474.4 1897.6,470.7 1902.8,466.9 1908.0,468.0 1913.1,472.1 1918.3,472.8 1923.5,469.0 1928.6,464.4 1933.8,460.1 1939.0,459.7 1944.1,463.6 1949.3,465.7 1954.5,463.4 1959.6,462.0 1964.8,463.2 1970.0,461.7 1975.1,457.6 1980.3,457.6 1985.5,461.7 1990.6,464.4 1995.8,464.2 2001.0,465.7 2006.1,468.0 2011.3,464.9 2016.4,460.7 2021.6,463.2 2026.8,468.4 2031.9,471.3 2037.1,470.7 2042.3,467.2 2047.4,465.9 2052.6,469.4 2057.8,471.9 2062.9,469.6 2068.1,468.0 2073.3,468.4 2078.4,466.9 2083.6,464.2 2088.8,464.4 2093.9,465.9 2099.1,465.7 2104.3,466.1 2109.4,468.4 2114.6,469.4" stroke="#808080" transform="translate(0,1008.76)"/>
<polyline points="302.3,595.2 305.8,595.2 310.9,575.3 316.1,562.4 321.3,567.0 326.4,570.1 331.6,570.3 336.8,579.0 341.9,589.8 347.1,594.0 352.3,584.8 357.4,571.3 362.6,566.5 367.8,573.2 372.9,580.7 378.1,581.1 383.3,573.4 388.4,567.0 393.6,570.7 398.7,582.1 403.9,590.0 409.1,584.8 414.2,575.9 419.4,575.3 424.6,572.8 429.7,568.6 434.9,576.3 440.1,586.9 445.2,589.4 450.4,583.2 455.6,579.0 460.7,575.9 465.9,569.7 471.1,570.1 476.2,581.7 481.4,590.9 486.6,591.5 491.7,582.6 496.9,570.3 502.1,573.8 507.2,589.4 512.4,594.6 517.6,584.8 522.7,575.3 527.9,571.1 533.0,573.2 538.2,580.1 543.4,585.3 548.5,582.6 553.7,568.6 558.9,555.1 564.0,561.3 569.2,582.8 574.4,594.0 579.5,587.8 584.7,583.6 589.9,578.6 595.0,564.9 600.2,565.5 605.4,587.3 610.5,606.7 615.7,607.5 620.9,595.7 626.0,575.9 631.2,554.1 636.4,540.6 641.5,547.8 646.7,575.9 651.9,595.0 657.0,585.3 662.2,567.6 667.3,558.2 672.5,555.5 677.7,561.3 682.8,575.9 688.0,590.0 693.2,598.4 698.3,596.1 703.5,588.8 708.7,578.0 713.8,566.1 719.0,564.9 724.2,579.0 729.3,587.3 734.5,574.9 739.7,564.1 744.8,570.1 750.0,576.3 755.2,566.5 760.3,560.9 765.5,580.7 770.7,607.7 775.8,607.7 781.0,583.8 786.2,572.8 791.3,580.1 796.5,587.8 801.7,584.8 806.8,574.9 812.0,571.1 817.1,571.1 822.3,570.1 827.5,575.9 832.6,581.1 837.8,571.7 843.0,564.9 848.1,575.3 853.3,588.2 858.5,590.9 863.6,589.0 868.8,584.2 874.0,577.4 879.1,569.7 884.3,550.9 889.5,532.6 894.6,531.8 899.8,545.8 905.0,559.3 910.1,569.7 915.3,584.2 920.5,608.1 925.6,633.7 930.8,638.9 936.0,623.3 941.1,607.1 946.3,598.8 951.4,589.4 956.6,572.8 961.8,560.9 966.9,559.9 972.1,561.3 977.3,555.5 982.4,541.0 987.6,531.2 992.8,538.5 997.9,556.1 1003.1,561.3 1008.3,553.0 1013.4,548.2 1018.6,555.1 1023.8,575.9 1028.9,595.2 1034.1,605.0 1039.3,615.4 1044.4,624.8 1049.6,623.7 1054.8,615.4 1059.9,609.2 1065.1,601.9 1070.3,589.4 1075.4,581.5 1080.6,582.8 1085.7,578.4 1090.9,562.0 1096.1,548.5 1101.2,549.9 1106.4,562.0 1111.6,571.7 1116.7,573.4 1121.9,574.4 1127.1,577.4 1132.2,574.9 1137.4,571.1 1142.6,580.1 1147.7,593.0 1152.9,595.0 1158.1,588.4 1163.2,592.5 1168.4,601.9 1173.6,596.7 1178.7,578.0 1183.9,561.3 1189.1,558.2 1194.2,559.3 1199.4,557.2 1204.6,552.4 1209.7,547.8 1214.9,549.9 1220.0,560.9 1225.2,570.3 1230.4,572.0 1235.5,568.8 1240.7,568.8 1245.9,573.4 1251.0,574.4 1256.2,570.7 1261.4,578.6 1266.5,596.7 1271.7,610.2 1276.9,614.4 1282.0,617.1 1287.2,614.0 1292.4,601.5 1297.5,583.2 1302.7,569.0 1307.9,566.5 1313.0,568.2 1318.2,571.3 1323.4,582.1 1328.5,594.0 1333.7,593.0 1338.9,582.1 1344.0,573.8 1349.2,564.5 1354.4,554.1 1359.5,549.9 1364.7,546.4 1369.8,536.4 1375.0,532.9 1380.2,542.6 1385.3,553.7 1390.5,565.5 1395.7,575.5 1400.8,577.4 1406.0,573.8 1411.2,586.9 1416.3,614.4 1421.5,629.3 1426.7,621.7 1431.8,616.5 1437.0,622.7 1442.2,623.9 1447.3,610.2 1452.5,596.7 1457.7,585.7 1462.8,575.3 1468.0,569.5 1473.2,571.7 1478.3,572.2 1483.5,559.3 1488.7,545.3 1493.8,540.1 1499.0,536.8 1504.1,536.8 1509.3,550.9 1514.5,569.2 1519.6,575.3 1524.8,568.2 1530.0,572.8 1535.1,589.4 1540.3,592.5 1545.5,585.3 1550.6,590.5 1555.8,602.9 1561.0,603.4 1566.1,588.4 1571.3,573.2 1576.5,574.2 1581.6,584.8 1586.8,582.6 1592.0,568.6 1597.1,563.6 1602.3,570.3 1607.5,574.4 1612.6,576.3 1617.8,579.6 1623.0,582.1 1628.1,574.9 1633.3,561.3 1638.4,557.8 1643.6,567.2 1648.8,576.5 1653.9,582.6 1659.1,587.3 1664.3,585.9 1669.4,578.0 1674.6,581.7 1679.8,595.2 1684.9,596.3 1690.1,585.7 1695.3,586.1 1700.4,591.1 1705.6,585.3 1710.8,575.9 1715.9,570.7 1721.1,572.0 1726.3,577.2 1731.4,572.8 1736.6,559.3 1741.8,553.4 1746.9,557.2 1752.1,564.1 1757.3,569.2 1762.4,564.5 1767.6,555.7 1772.8,558.2 1777.9,571.7 1783.1,582.6 1788.2,583.6 1793.4,587.3 1798.6,600.4 1803.7,602.5 1808.9,585.3 1814.1,569.0 1819.2,574.2 1824.4,588.0 1829.6,588.0 1834.7,580.1 1839.9,573.2 1845.1,566.5 1850.2,571.1 1855.4,584.8 1860.6,586.3 1865.7,576.5 1870.9,576.9 1876.1,580.7 1881.2,577.4 1886.4,575.5 1891.6,579.4 1896.7,583.2 1901.9,587.3 1907.1,590.9 1912.2,587.3 1917.4,574.9 1922.5,568.6 1927.7,579.6 1932.9,586.3 1938.0,574.9 1943.2,569.2 1948.4,578.0 1953.5,578.4 1958.7,566.5 1963.9,564.5 1969.0,571.1 1974.2,568.6 1979.4,560.9 1984.5,562.4 1989.7,569.7 1994.9,574.9 2000.0,574.9 2005.2,570.3 2010.4,568.0 2015.5,574.9 2020.7,587.8 2025.9,595.2 2031.0,584.2 2036.2,573.2 2041.4,582.1 2046.5,595.7 2051.7,591.5 2056.8,577.6 2062.0,570.7 2067.2,576.5 2072.3,586.9 2077.5,591.5 2082.7,588.4 2087.8,583.2 2093.0,574.9 2098.2,568.6 2103.3,573.2 2108.5,576.9 2113.7,573.8" stroke="#808080" transform="translate(0,896.68)"/>
<polyline points="302.3,693.2 306.8,693.2 312.0,684.9 317.1,690.7 322.3,710.9 327.4,716.7 332.6,701.5 337.8,690.1 342.9,679.7 348.1,666.1 353.3,668.9 358.4,692.1 363.6,712.9 368.8,710.4 373.9,687.6 379.1,670.9 384.3,681.7 389.4,698.4 394.6,693.2 399.8,678.6 404.9,690.1 410.1,717.1 415.3,707.7 420.4,672.4 425.6,665.1 430.8,673.4 435.9,685.9 441.1,693.2 446.3,679.7 451.4,666.1 456.6,684.9 461.7,714.6 466.9,716.1 472.1,694.8 477.2,689.6 482.4,691.1 487.6,678.6 492.7,668.2 497.9,682.8 503.1,710.9 508.2,722.3 513.4,693.2 518.6,666.6 523.7,681.7 528.9,706.7 534.1,697.3 539.2,678.0 544.4,677.2 549.6,681.1 554.7,689.0 559.9,707.1 565.1,702.5 570.2,664.1 575.4,638.7 580.6,676.5 585.7,713.4 590.9,708.8 596.0,685.9 601.2,675.5 606.4,681.7 611.5,696.7 616.7,705.0 621.9,703.2 627.0,695.3 632.2,680.7 637.4,680.1 642.5,711.9 647.7,738.3 652.9,720.2 658.0,692.6 663.2,688.0 668.4,693.6 673.5,691.1 678.7,680.7 683.9,677.6 689.0,691.1 694.2,706.7 699.4,700.9 704.5,666.1 709.7,647.4 714.9,670.3 720.0,705.7 725.2,718.1 730.4,695.3 735.5,671.8 740.7,672.0 745.8,683.8 751.0,687.4 756.2,682.8 761.3,679.0 766.5,688.6 771.7,700.0 776.8,694.8 782.0,690.5 787.2,700.5 792.3,707.1 797.5,704.6 802.7,683.8 807.8,661.6 813.0,666.1 818.2,690.1 823.3,702.5 828.5,699.0 833.7,694.8 838.8,695.7 844.0,686.5 849.2,666.1 854.3,668.2 859.5,692.1 864.7,695.7 869.8,674.1 875.0,671.3 880.1,698.0 885.3,705.7 890.5,683.4 895.6,676.5 900.8,694.2 906.0,705.0 911.1,695.3 916.3,678.6 921.5,666.8 926.6,664.7 931.8,672.4 937.0,682.8 942.1,690.1 947.3,691.1 952.5,683.8 957.6,690.1 962.8,716.1 968.0,740.6 973.1,741.6 978.3,723.3 983.5,694.8 988.6,675.5 993.8,659.9 999.0,639.1 1004.1,628.1 1009.3,639.1 1014.4,662.0 1019.6,682.4 1024.8,699.4 1029.9,715.6 1035.1,719.8 1040.3,705.7 1045.4,696.3 1050.6,702.1 1055.8,701.1 1060.9,686.3 1066.1,682.8 1071.3,695.9 1076.4,701.9 1081.6,699.0 1086.8,705.7 1091.9,718.8 1097.1,718.1 1102.3,711.9 1107.4,709.8 1112.6,693.2 1117.8,665.5 1122.9,663.0 1128.1,685.9 1133.3,694.2 1138.4,677.6 1143.6,664.1 1148.8,674.1 1153.9,695.3 1159.1,715.0 1164.2,724.0 1169.4,710.9 1174.6,679.7 1179.7,663.4 1184.9,668.2 1190.1,676.1 1195.2,682.8 1200.4,694.2 1205.6,701.1 1210.7,686.9 1215.9,670.7 1221.1,677.2 1226.2,683.8 1231.4,675.9 1236.6,681.7 1241.7,703.0 1246.9,706.7 1252.1,688.6 1257.2,678.6 1262.4,693.2 1267.6,717.1 1272.7,721.9 1277.9,698.4 1283.1,675.1 1288.2,682.4 1293.4,700.0 1298.5,702.5 1303.7,696.9 1308.9,690.7 1314.0,679.7 1319.2,674.5 1324.4,678.2 1329.5,677.6 1334.7,675.5 1339.9,680.7 1345.0,679.2 1350.2,668.6 1355.4,673.4 1360.5,696.3 1365.7,711.3 1370.9,694.8 1376.0,677.0 1381.2,692.1 1386.4,720.8 1391.5,716.7 1396.7,694.6 1401.9,691.1 1407.0,701.5 1412.2,705.7 1417.4,694.2 1422.5,677.2 1427.7,674.5 1432.8,691.1 1438.0,702.5 1443.2,691.7 1448.3,680.3 1453.5,695.3 1458.7,717.1 1463.8,708.8 1469.0,683.8 1474.2,674.1 1479.3,679.2 1484.5,691.5 1489.7,706.7 1494.8,710.9 1500.0,688.0 1505.2,664.5 1510.3,672.4 1515.5,688.0 1520.7,681.3 1525.8,670.3 1531.0,682.4 1536.2,705.2 1541.3,699.4 1546.5,665.5 1551.7,659.9 1556.8,699.4 1562.0,718.1 1567.1,685.3 1572.3,671.8 1577.5,703.0 1582.6,701.5 1587.8,661.4 1593.0,672.4 1598.1,719.6 1603.3,711.9 1608.5,670.7 1613.6,665.1 1618.8,688.0 1624.0,700.0 1629.1,697.8 1634.3,682.8 1639.5,662.0 1644.6,663.4 1649.8,690.5 1655.0,715.0 1660.1,705.2 1665.3,678.0 1670.5,670.3 1675.6,690.1 1680.8,703.6 1686.0,691.1 1691.1,682.8 1696.3,695.3 1701.5,712.5 1706.6,709.4 1711.8,688.0 1716.9,667.2 1722.1,659.5 1727.3,670.3 1732.4,691.1 1737.6,707.7 1742.8,708.2 1747.9,690.5 1753.1,678.0 1758.3,678.6 1763.4,684.4 1768.6,694.2 1773.8,689.0 1778.9,657.2 1784.1,649.5 1789.3,691.1 1794.4,718.1 1799.6,689.0 1804.8,653.0 1809.9,654.7 1815.1,682.8 1820.3,705.0 1825.4,698.4 1830.6,680.7 1835.8,674.1 1840.9,684.2 1846.1,700.0 1851.2,711.9 1856.4,718.1 1861.6,716.1 1866.7,709.4 1871.9,700.5 1877.1,691.1 1882.2,692.1 1887.4,704.2 1892.6,705.0 1897.7,686.5 1902.9,678.0 1908.1,688.0 1913.2,684.9 1918.4,678.2 1923.6,688.4 1928.7,693.2 1933.9,684.9 1939.1,673.0 1944.2,664.7 1949.4,673.4 1954.6,696.9 1959.7,709.2 1964.9,695.3 1970.1,681.7 1975.2,681.7 1980.4,685.9 1985.5,694.2 1990.7,703.6 1995.9,698.4 2001.0,682.8 2006.2,678.6 2011.4,687.4 2016.5,700.5 2021.7,715.4 2026.9,715.4 2032.0,688.0 2037.2,663.7 2042.4,680.7 2047.5,723.3 2052.7,733.7 2057.9,699.4 2063.0,670.9 2068.2,676.5 2073.4,690.1 2078.5,690.1 2083.7,686.3 2088.9,686.9 2094.0,689.4 2099.2,690.5 2104.4,677.6 2109.5,653.7 2114.7,660.9" stroke="#808080" transform="translate(0,784.60)"/>
<polyline points="302.3,795.7 305.5,795.7 310.7,799.9 315.9,803.2 321.0,802.6 326.2,800.5 331.3,799.9 336.5,801.3 341.7,801.5 346.8,799.2 352.0,799.9 357.2,803.0 362.3,804.4 367.5,804.2 372.7,803.4 377.8,801.9 383.0,798.4 388.2,796.3 393.3,798.8 398.5,804.0 403.7,805.7 408.8,803.6 414.0,799.9 419.2,797.4 424.3,798.4 429.5,801.9 434.7,803.6 439.8,801.5 445.0,798.8 450.2,800.9 455.3,804.6 460.5,806.1 465.6,805.7 470.8,804.4 476.0,801.9 481.1,800.9 486.3,800.5 491.5,799.4 496.6,801.3 501.8,804.9 507.0,804.4 512.1,802.6 517.3,801.5 522.5,797.8 527.6,793.2 532.8,795.7 538.0,799.4 543.1,799.4 548.3,799.9 553.5,807.1 558.6,814.4 563.8,811.9 569.0,801.3 574.1,797.2 579.3,799.4 584.5,801.9 589.6,801.3 594.8,798.4 599.9,796.7 605.1,797.0 610.3,797.2 615.4,798.0 620.6,799.2 625.8,800.9 630.9,805.1 636.1,809.2 641.3,808.6 646.4,806.1 651.6,806.7 656.8,806.1 661.9,799.4 667.1,793.0 672.3,793.6 677.4,799.9 682.6,806.1 687.8,807.1 692.9,798.2 698.1,788.0 703.3,785.7 708.4,794.7 713.6,808.2 718.8,813.4 723.9,808.6 729.1,804.6 734.3,803.4 739.4,800.5 744.6,797.8 749.7,799.2 754.9,799.4 760.1,796.7 765.2,795.7 770.4,801.5 775.6,808.2 780.7,809.8 785.9,810.3 791.1,810.3 796.2,808.6 801.4,805.7 806.6,800.9 811.7,795.9 816.9,796.1 822.1,801.9 827.2,807.1 832.4,805.1 837.6,797.8 842.7,794.7 847.9,799.2 853.1,803.8 858.2,803.8 863.4,803.2 868.6,804.4 873.7,803.0 878.9,798.4 884.0,798.4 889.2,805.7 894.4,814.0 899.5,815.5 904.7,806.7 909.9,795.7 915.0,786.3 920.2,780.7 925.4,778.4 930.5,774.9 935.7,771.8 940.9,774.9 946.0,784.3 951.2,797.8 956.4,813.4 961.5,827.9 966.7,844.6 971.9,860.4 977.0,863.3 982.2,850.8 987.4,834.2 992.5,813.4 997.7,785.3 1002.9,758.3 1008.0,744.8 1013.2,747.9 1018.3,761.4 1023.5,774.9 1028.7,785.9 1033.8,792.2 1039.0,796.7 1044.2,801.9 1049.3,803.0 1054.5,797.8 1059.7,792.6 1064.8,794.2 1070.0,800.9 1075.2,806.1 1080.3,811.3 1085.5,819.6 1090.7,824.8 1095.8,822.3 1101.0,819.2 1106.2,818.6 1111.3,814.4 1116.5,806.1 1121.7,798.8 1126.8,796.7 1132.0,797.8 1137.2,798.8 1142.3,798.8 1147.5,800.9 1152.7,807.1 1157.8,815.9 1163.0,821.1 1168.1,819.6 1173.3,811.3 1178.5,803.0 1183.6,795.3 1188.8,787.4 1194.0,781.8 1199.1,784.3 1204.3,791.5 1209.5,795.7 1214.6,796.5 1219.8,797.4 1225.0,798.0 1230.1,797.6 1235.3,797.2 1240.5,798.8 1245.6,801.5 1250.8,805.1 1256.0,807.8 1261.1,808.0 1266.3,807.6 1271.5,809.8 1276.6,811.5 1281.8,810.3 1287.0,807.8 1292.1,805.7 1297.3,803.6 1302.4,803.8 1307.6,806.1 1312.8,805.7 1317.9,803.0 1323.1,801.3 1328.3,798.8 1333.4,792.6 1338.6,786.6 1343.8,787.2 1348.9,789.9 1354.1,787.0 1359.3,783.9 1364.4,788.0 1369.6,796.3 1374.8,800.9 1379.9,804.4 1385.1,813.0 1390.3,818.6 1395.4,812.3 1400.6,804.4 1405.8,801.9 1410.9,799.4 1416.1,794.2 1421.3,788.0 1426.4,787.0 1431.6,792.6 1436.7,797.2 1441.9,800.5 1447.1,805.1 1452.2,810.3 1457.4,817.5 1462.6,822.1 1467.7,820.7 1472.9,818.0 1478.1,818.0 1483.2,818.2 1488.4,812.8 1493.6,803.4 1498.7,799.9 1503.9,806.5 1509.1,810.3 1514.2,803.0 1519.4,791.5 1524.6,788.6 1529.7,790.5 1534.9,790.1 1540.1,787.0 1545.2,783.0 1550.4,782.8 1555.6,785.9 1560.7,787.4 1565.9,790.5 1571.1,797.8 1576.2,803.0 1581.4,804.0 1586.5,806.5 1591.7,810.3 1596.9,810.3 1602.0,806.9 1607.2,805.3 1612.4,804.4 1617.5,803.8 1622.7,804.0 1627.9,805.5 1633.0,805.9 1638.2,805.1 1643.4,804.9 1648.5,804.4 1653.7,803.6 1658.9,805.5 1664.0,807.6 1669.2,806.5 1674.4,806.1 1679.5,809.6 1684.7,808.6 1689.9,802.4 1695.0,800.7 1700.2,800.9 1705.4,796.7 1710.5,793.6 1715.7,795.7 1720.8,797.6 1726.0,796.1 1731.2,796.1 1736.3,801.1 1741.5,804.9 1746.7,801.1 1751.8,800.5 1757.0,806.1 1762.2,807.1 1767.3,803.0 1772.5,800.3 1777.7,798.8 1782.8,797.4 1788.0,797.2 1793.2,797.2 1798.3,797.6 1803.5,796.7 1808.7,795.3 1813.8,795.7 1819.0,796.7 1824.2,796.7 1829.3,799.9 1834.5,805.5 1839.7,805.7 1844.8,799.9 1850.0,797.2 1855.1,801.9 1860.3,809.2 1865.5,812.3 1870.6,810.3 1875.8,807.8 1881.0,808.6 1886.1,808.2 1891.3,805.1 1896.5,804.4 1901.6,806.1 1906.8,803.0 1912.0,797.8 1917.1,797.4 1922.3,799.4 1927.5,798.2 1932.6,796.7 1937.8,798.8 1943.0,801.9 1948.1,804.6 1953.3,803.0 1958.5,796.7 1963.6,794.2 1968.8,798.8 1974.0,801.9 1979.1,799.9 1984.3,797.2 1989.4,797.0 1994.6,799.9 1999.8,802.4 2004.9,800.3 2010.1,795.7 2015.3,796.7 2020.4,803.0 2025.6,807.8 2030.8,807.1 2035.9,803.0 2041.1,800.9 2046.3,803.4 2051.4,805.1 2056.6,804.2 2061.8,805.1 2066.9,805.5 2072.1,803.6 2077.3,803.4 2082.4,804.0 2087.6,802.6 2092.8,801.1 2097.9,799.4 2103.1,798.4 2108.3,799.9 2113.4,801.9" stroke="#808080" transform="translate(0,672.51)"/>
<polyline points="302.3,909.4 306.0,909.4 311.2,911.9 316.4,911.5 321.5,906.7 326.7,907.0 331.9,918.8 337.0,930.2 342.2,924.0 347.4,910.3 352.5,908.8 357.7,913.0 362.9,910.3 368.0,907.2 373.2,911.9 378.4,916.1 383.5,916.7 388.7,915.3 393.9,913.2 399.0,909.9 404.2,909.0 409.4,911.9 414.5,915.1 419.7,916.1 424.8,913.2 430.0,908.4 435.2,909.4 440.3,917.6 445.5,919.2 450.7,911.3 455.8,906.7 461.0,910.9 466.2,915.5 471.3,913.0 476.5,909.0 481.7,909.4 486.8,911.9 492.0,913.4 497.2,915.7 502.3,918.6 507.5,921.1 512.7,918.2 517.8,909.2 523.0,902.6 528.2,903.2 533.3,908.8 538.5,915.1 543.7,916.1 548.8,910.3 554.0,910.9 559.1,918.8 564.3,922.3 569.5,916.5 574.6,910.5 579.8,910.9 585.0,920.3 590.1,930.7 595.3,932.7 600.5,920.3 605.6,907.4 610.8,904.0 616.0,906.1 621.1,908.4 626.3,915.1 631.5,921.9 636.6,921.3 641.8,916.1 647.0,910.3 652.1,905.7 657.3,904.0 662.5,903.4 667.6,903.2 672.8,905.7 678.0,912.4 683.1,917.1 688.3,915.5 693.5,913.4 698.6,913.0 703.8,914.4 708.9,922.8 714.1,932.7 719.3,929.6 724.4,916.1 729.6,904.0 734.8,905.7 739.9,915.1 745.1,923.2 750.3,923.4 755.4,917.1 760.6,910.9 765.8,906.1 770.9,907.8 776.1,917.1 781.3,926.5 786.4,928.0 791.6,920.9 796.8,913.6 801.9,912.6 807.1,918.2 812.3,920.3 817.4,914.6 822.6,916.1 827.8,925.9 832.9,927.5 838.1,918.2 843.2,914.4 848.4,918.8 853.6,915.5 858.7,907.2 863.9,905.7 869.1,905.1 874.2,896.8 879.4,888.0 884.6,884.9 889.7,888.4 894.9,895.3 900.1,903.6 905.2,913.0 910.4,922.3 915.6,925.5 920.7,921.3 925.9,917.8 931.1,915.1 936.2,901.1 941.4,875.6 946.6,860.0 951.7,868.3 956.9,888.0 962.1,907.4 967.2,927.5 972.4,951.5 977.5,971.2 982.7,975.8 987.9,968.1 993.0,955.6 998.2,940.0 1003.4,924.0 1008.5,917.1 1013.7,914.0 1018.9,908.2 1024.0,903.0 1029.2,903.6 1034.4,905.1 1039.5,899.9 1044.7,891.1 1049.9,882.8 1055.0,877.2 1060.2,879.1 1065.4,894.3 1070.5,913.0 1075.7,924.8 1080.9,929.2 1086.0,928.6 1091.2,931.3 1096.4,939.6 1101.5,943.1 1106.7,937.9 1111.9,929.6 1117.0,918.2 1122.2,905.1 1127.3,896.6 1132.5,900.1 1137.7,905.3 1142.8,902.6 1148.0,897.4 1153.2,892.2 1158.3,888.0 1163.5,889.5 1168.7,901.5 1173.8,916.1 1179.0,927.5 1184.2,940.0 1189.3,954.6 1194.5,963.3 1199.7,955.2 1204.8,934.8 1210.0,917.1 1215.2,907.2 1220.3,906.1 1225.5,908.4 1230.7,907.0 1235.8,904.0 1241.0,901.1 1246.2,900.1 1251.3,903.2 1256.5,904.9 1261.6,897.8 1266.8,891.8 1272.0,895.3 1277.1,902.2 1282.3,901.3 1287.5,896.6 1292.6,897.4 1297.8,901.1 1303.0,902.6 1308.1,907.2 1313.3,917.8 1318.5,927.5 1323.6,933.8 1328.8,939.6 1334.0,945.4 1339.1,946.0 1344.3,940.0 1349.5,933.8 1354.6,927.5 1359.8,917.1 1365.0,907.4 1370.1,898.4 1375.3,891.1 1380.5,890.7 1385.6,897.0 1390.8,894.9 1395.9,887.6 1401.1,890.7 1406.3,902.6 1411.4,914.6 1416.6,923.8 1421.8,927.5 1426.9,929.2 1432.1,932.3 1437.3,934.8 1442.4,933.2 1447.6,925.5 1452.8,917.6 1457.9,916.1 1463.1,917.4 1468.3,909.9 1473.4,899.1 1478.6,903.2 1483.8,922.3 1488.9,934.4 1494.1,930.7 1499.3,924.8 1504.4,925.5 1509.6,925.9 1514.8,919.2 1519.9,907.8 1525.1,896.8 1530.3,890.5 1535.4,891.8 1540.6,893.9 1545.7,890.7 1550.9,887.8 1556.1,892.6 1561.2,905.7 1566.4,914.0 1571.6,911.9 1576.7,909.9 1581.9,914.0 1587.1,920.3 1592.2,923.0 1597.4,917.1 1602.6,911.9 1607.7,918.2 1612.9,930.0 1618.1,934.8 1623.2,929.6 1628.4,921.3 1633.6,915.7 1638.7,911.5 1643.9,909.2 1649.1,915.1 1654.2,924.4 1659.4,926.9 1664.6,921.3 1669.7,915.7 1674.9,914.2 1680.0,914.0 1685.2,912.2 1690.4,912.8 1695.5,920.9 1700.7,929.0 1705.9,929.0 1711.0,923.8 1716.2,920.3 1721.4,918.8 1726.5,915.7 1731.7,907.8 1736.9,898.4 1742.0,891.8 1747.2,890.7 1752.4,892.2 1757.5,890.9 1762.7,890.1 1767.9,892.8 1773.0,895.5 1778.2,896.6 1783.4,896.8 1788.5,900.3 1793.7,909.9 1798.9,918.8 1804.0,918.6 1809.2,920.3 1814.3,929.6 1819.5,937.1 1824.7,935.4 1829.8,926.5 1835.0,920.5 1840.2,925.9 1845.3,933.2 1850.5,927.5 1855.7,919.4 1860.8,926.5 1866.0,935.4 1871.2,929.6 1876.3,920.7 1881.5,921.5 1886.7,920.9 1891.8,912.6 1897.0,907.4 1902.2,910.9 1907.3,912.2 1912.5,904.7 1917.7,895.9 1922.8,891.1 1928.0,890.7 1933.2,894.3 1938.3,897.4 1943.5,897.2 1948.6,895.7 1953.8,897.0 1959.0,902.6 1964.1,911.3 1969.3,915.7 1974.5,915.1 1979.6,917.1 1984.8,924.4 1990.0,931.1 1995.1,934.8 2000.3,934.4 2005.5,929.2 2010.6,924.0 2015.8,922.3 2021.0,920.3 2026.1,913.4 2031.3,907.2 2036.5,909.9 2041.6,917.1 2046.8,919.2 2052.0,916.1 2057.1,910.9 2062.3,904.5 2067.5,902.2 2072.6,906.7 2077.8,909.4 2083.0,907.2 2088.1,909.9 2093.3,923.0 2098.4,929.8 2103.6,920.3 2108.8,908.8 2113.9,906.7" stroke="#808080" transform="translate(0,560.42)"/>
<polyline points="302.3,1029.6 305.2,1029.6 310.3,1034.8 315.5,1035.0 320.6,1018.4 325.8,1001.1 331.0,995.9 336.1,1007.4 341.3,1028.2 346.5,1040.2 351.6,1031.9 356.8,1020.9 362.0,1026.5 367.1,1036.1 372.3,1034.4 377.5,1031.9 382.6,1031.5 387.8,1028.6 393.0,1025.7 398.1,1015.1 403.3,1001.1 408.5,1016.7 413.6,1045.9 418.8,1041.3 424.0,1013.6 429.1,1007.4 434.3,1005.3 439.5,995.9 444.6,1014.7 449.8,1041.7 454.9,1026.1 460.1,990.8 465.3,997.0 470.4,1033.4 475.6,1047.5 480.8,1024.0 485.9,1004.9 491.1,1011.5 496.3,1036.5 501.4,1050.0 506.6,1036.5 511.8,1014.7 516.9,1017.2 522.1,1038.0 527.3,1035.5 532.4,1016.3 537.6,1024.0 542.8,1046.3 547.9,1038.0 553.1,1014.2 558.3,1013.6 563.4,1029.2 568.6,1036.1 573.8,1035.5 578.9,1037.1 584.1,1033.4 589.3,1013.6 594.4,1006.3 599.6,1036.5 604.7,1059.0 609.9,1032.3 615.1,1009.1 620.2,1026.7 625.4,1035.0 630.6,1017.2 635.7,1011.1 640.9,1018.8 646.1,1023.6 651.2,1021.5 656.4,1016.7 661.6,1021.3 666.7,1032.3 671.9,1041.1 677.1,1038.0 682.2,1028.8 687.4,1025.5 692.6,1022.4 697.7,1014.7 702.9,1012.0 708.1,1023.0 713.2,1039.6 718.4,1048.4 723.6,1045.2 728.7,1025.5 733.9,1003.2 739.0,998.0 744.2,1011.1 749.4,1019.9 754.5,1021.9 759.7,1025.1 764.9,1028.2 770.0,1030.9 775.2,1035.9 780.4,1030.9 785.5,1023.4 790.7,1030.9 795.9,1041.1 801.0,1038.0 806.2,1017.8 811.4,999.1 816.5,992.8 821.7,1000.1 826.9,1019.4 832.0,1038.0 837.2,1034.4 842.4,1034.4 847.5,1053.1 852.7,1047.5 857.9,1013.2 863.0,1012.2 868.2,1040.2 873.3,1041.7 878.5,1030.7 883.7,1025.7 888.8,1014.7 894.0,1025.1 899.2,1053.6 904.3,1044.4 909.5,1002.2 914.7,979.9 919.8,1000.1 925.0,1034.8 930.2,1036.5 935.3,1009.9 940.5,1000.7 945.7,1021.9 950.8,1041.7 956.0,1046.9 961.2,1047.7 966.3,1040.7 971.5,1020.9 976.7,1008.8 981.8,1011.5 987.0,1026.7 992.2,1052.1 997.3,1065.0 1002.5,1046.9 1007.6,1019.4 1012.8,1005.3 1018.0,998.7 1023.1,998.0 1028.3,1013.6 1033.5,1045.4 1038.6,1066.9 1043.8,1053.1 1049.0,1023.6 1054.1,1003.6 1059.3,1001.1 1064.5,1016.7 1069.6,1048.4 1074.8,1060.0 1080.0,1028.2 1085.1,1002.2 1090.3,1016.7 1095.5,1023.4 1100.6,1013.2 1105.8,1024.0 1111.0,1044.8 1116.1,1043.4 1121.3,1026.1 1126.5,1010.5 1131.6,1013.2 1136.8,1024.0 1142.0,1023.6 1147.1,1012.6 1152.3,1009.5 1157.4,1007.4 1162.6,995.9 1167.8,1005.3 1172.9,1049.0 1178.1,1073.9 1183.3,1069.2 1188.4,1066.2 1193.6,1070.8 1198.8,1057.3 1203.9,1028.2 1209.1,994.9 1214.3,976.2 1219.4,994.9 1224.6,1050.0 1229.8,1076.4 1234.9,1042.7 1240.1,1010.1 1245.3,1014.2 1250.4,1019.2 1255.6,1012.6 1260.8,1014.0 1265.9,1010.9 1271.1,988.7 1276.3,966.2 1281.4,964.1 1286.6,981.4 1291.7,1006.8 1296.9,1031.9 1302.1,1042.7 1307.2,1040.0 1312.4,1049.0 1317.6,1070.4 1322.7,1079.1 1327.9,1070.4 1333.1,1049.0 1338.2,1018.8 1343.4,1009.1 1348.6,1028.2 1353.7,1034.4 1358.9,1017.8 1364.1,1012.2 1369.2,1034.0 1374.4,1052.5 1379.6,1040.7 1384.7,1021.9 1389.9,1014.2 1395.1,1023.6 1400.2,1032.3 1405.4,1022.6 1410.6,1007.0 1415.7,1007.8 1420.9,1023.6 1426.0,1039.0 1431.2,1037.5 1436.4,1039.6 1441.5,1058.3 1446.7,1060.0 1451.9,1038.2 1457.0,1030.3 1462.2,1039.2 1467.4,1030.9 1472.5,1010.1 1477.7,1008.0 1482.9,1016.7 1488.0,1003.2 1493.2,988.7 1498.4,1003.2 1503.5,1017.8 1508.7,999.1 1513.9,980.4 1519.0,999.1 1524.2,1026.1 1529.4,1021.9 1534.5,1009.9 1539.7,1016.1 1544.9,1033.4 1550.0,1038.0 1555.2,1017.2 1560.4,1008.0 1565.5,1033.4 1570.7,1054.2 1575.8,1042.1 1581.0,1028.2 1586.2,1025.1 1591.3,1034.0 1596.5,1057.3 1601.7,1069.4 1606.8,1046.9 1612.0,1021.3 1617.2,1020.5 1622.3,1033.8 1627.5,1042.7 1632.7,1034.4 1637.8,1011.1 1643.0,995.9 1648.2,1005.9 1653.3,1015.7 1658.5,1003.9 1663.7,994.3 1668.8,1008.4 1674.0,1027.6 1679.2,1035.5 1684.3,1033.8 1689.5,1025.7 1694.7,1028.8 1699.8,1048.4 1705.0,1052.1 1710.1,1038.6 1715.3,1040.2 1720.5,1045.9 1725.6,1040.0 1730.8,1046.9 1736.0,1056.9 1741.1,1035.9 1746.3,1015.1 1751.5,1013.2 1756.6,1009.5 1761.8,1000.5 1767.0,1005.9 1772.1,1001.8 1777.3,982.4 1782.5,987.2 1787.6,1010.1 1792.8,1017.4 1798.0,1024.6 1803.1,1038.6 1808.3,1036.1 1813.5,1030.3 1818.6,1040.2 1823.8,1049.0 1829.0,1040.7 1834.1,1031.9 1839.3,1042.7 1844.4,1060.4 1849.6,1051.1 1854.8,1030.9 1859.9,1035.5 1865.1,1051.1 1870.3,1045.4 1875.4,1018.8 1880.6,1004.9 1885.8,1019.9 1890.9,1032.8 1896.1,1022.4 1901.3,1013.6 1906.4,1010.1 1911.6,1006.3 1916.8,1013.6 1921.9,1026.7 1927.1,1028.8 1932.3,1017.4 1937.4,1008.0 1942.6,1012.6 1947.8,1023.0 1952.9,1020.5 1958.1,1008.4 1963.3,1004.1 1968.4,1016.7 1973.6,1031.9 1978.8,1031.5 1983.9,1023.6 1989.1,1028.2 1994.2,1038.6 1999.4,1031.3 2004.6,1012.6 2009.7,1010.5 2014.9,1025.7 2020.1,1034.8 2025.2,1034.4 2030.4,1027.1 2035.6,1015.7 2040.7,1015.1 2045.9,1027.1 2051.1,1035.9 2056.2,1031.3 2061.4,1018.8 2066.6,1015.7 2071.7,1021.5 2076.9,1018.8 2082.1,1016.1 2087.2,1027.6 2092.4,1032.3 2097.6,1020.3 2102.7,1013.2 2107.9,1018.8 2113.1,1028.2 2114.2,1028.2" stroke="#808080" transform="translate(0,448.34)"/>
<polyline points="302.3,1141.5 305.8,1141.5 310.9,1138.6 316.1,1139.0 321.3,1137.6 326.4,1131.3 331.6,1129.0 336.8,1135.3 341.9,1139.4 347.1,1136.9 352.3,1137.8 357.4,1139.6 362.6,1135.9 367.7,1133.2 372.9,1138.0 378.1,1144.8 383.2,1145.7 388.4,1138.0 393.6,1130.7 398.7,1131.5 403.9,1138.0 409.1,1142.6 414.2,1141.7 419.4,1138.0 424.6,1137.4 429.7,1139.6 434.9,1136.3 440.1,1132.8 445.2,1138.4 450.4,1143.6 455.6,1138.6 460.7,1131.1 465.9,1130.3 471.1,1132.8 476.2,1136.3 481.4,1143.6 486.6,1144.0 491.7,1129.7 496.9,1117.2 502.0,1124.5 507.2,1141.7 512.4,1146.9 517.5,1136.3 522.7,1134.4 527.9,1150.0 533.0,1158.2 538.2,1142.1 543.4,1129.7 548.5,1143.6 553.7,1157.1 558.9,1141.7 564.0,1130.7 569.2,1139.0 574.4,1139.9 579.5,1125.5 584.7,1120.3 589.9,1131.7 595.0,1145.9 600.2,1141.5 605.4,1130.7 610.5,1135.3 615.7,1144.2 620.9,1142.1 626.0,1139.0 631.2,1141.5 636.3,1149.4 641.5,1156.9 646.7,1145.3 651.8,1131.3 657.0,1128.6 662.2,1126.5 667.3,1120.9 672.5,1129.7 677.7,1143.6 682.8,1149.0 688.0,1143.8 693.2,1137.4 698.3,1135.9 703.5,1136.9 708.7,1130.1 713.8,1123.4 719.0,1132.2 724.2,1145.3 729.3,1147.8 734.5,1149.8 739.7,1154.2 744.8,1144.2 750.0,1128.6 755.2,1124.1 760.3,1129.7 765.5,1139.0 770.7,1141.7 775.8,1134.2 781.0,1131.7 786.1,1143.2 791.3,1153.2 796.5,1144.8 801.6,1133.8 806.8,1136.5 812.0,1145.7 817.1,1144.6 822.3,1136.3 827.5,1140.1 832.6,1150.5 837.8,1144.2 843.0,1132.2 848.1,1133.8 853.3,1137.4 858.5,1133.8 863.6,1131.7 868.8,1131.7 874.0,1133.2 879.1,1135.9 884.3,1141.5 889.5,1147.5 894.6,1139.6 899.8,1125.5 905.0,1122.4 910.1,1120.3 915.3,1106.2 920.4,1099.5 925.6,1109.9 930.8,1120.3 935.9,1129.7 941.1,1150.5 946.3,1173.8 951.4,1181.2 956.6,1184.2 961.8,1190.4 966.9,1186.2 972.1,1161.9 977.3,1139.0 982.4,1130.3 987.6,1138.6 992.8,1146.7 997.9,1137.4 1003.1,1119.3 1008.3,1109.9 1013.4,1108.2 1018.6,1104.7 1023.8,1095.4 1028.9,1089.7 1034.1,1092.6 1039.3,1098.5 1044.4,1110.9 1049.6,1136.9 1054.7,1158.8 1059.9,1156.7 1065.1,1155.0 1070.2,1178.5 1075.4,1199.7 1080.6,1182.7 1085.7,1158.8 1090.9,1157.7 1096.1,1160.9 1101.2,1147.3 1106.4,1130.3 1111.6,1117.6 1116.7,1110.9 1121.9,1112.4 1127.1,1114.7 1132.2,1109.3 1137.4,1110.9 1142.6,1133.8 1147.7,1156.3 1152.9,1156.7 1158.1,1155.2 1163.2,1161.9 1168.4,1162.5 1173.6,1156.1 1178.7,1156.7 1183.9,1158.8 1189.0,1147.3 1194.2,1135.9 1199.4,1143.2 1204.5,1145.9 1209.7,1126.5 1214.9,1118.2 1220.0,1129.2 1225.2,1121.3 1230.4,1098.5 1235.5,1097.4 1240.7,1109.9 1245.9,1111.4 1251.0,1109.5 1256.2,1125.5 1261.4,1149.4 1266.5,1150.3 1271.7,1131.7 1276.9,1121.8 1282.0,1120.9 1287.2,1125.5 1292.4,1142.1 1297.5,1162.5 1302.7,1172.9 1307.9,1170.2 1313.0,1164.6 1318.2,1151.5 1323.4,1138.0 1328.5,1142.6 1333.7,1153.0 1338.8,1143.2 1344.0,1127.0 1349.2,1132.8 1354.3,1152.5 1359.5,1161.9 1364.7,1157.1 1369.8,1151.5 1375.0,1144.2 1380.2,1128.6 1385.3,1112.0 1390.5,1110.9 1395.7,1117.2 1400.8,1118.6 1406.0,1120.3 1411.2,1128.2 1416.3,1139.0 1421.5,1140.1 1426.7,1130.7 1431.8,1124.1 1437.0,1120.9 1442.2,1123.0 1447.3,1138.6 1452.5,1156.3 1457.7,1165.4 1462.8,1168.1 1468.0,1175.8 1473.1,1179.2 1478.3,1156.7 1483.5,1135.5 1488.6,1134.9 1493.8,1144.6 1499.0,1137.4 1504.1,1120.9 1509.3,1115.7 1514.5,1120.3 1519.6,1124.5 1524.8,1126.1 1530.0,1122.4 1535.1,1116.8 1540.3,1116.1 1545.5,1120.3 1550.6,1126.1 1555.8,1133.8 1561.0,1138.6 1566.1,1134.9 1571.3,1132.8 1576.5,1139.0 1581.6,1150.0 1586.8,1159.2 1592.0,1157.1 1597.1,1146.3 1602.3,1138.0 1607.4,1143.2 1612.6,1155.2 1617.8,1157.1 1622.9,1150.5 1628.1,1151.5 1633.3,1152.5 1638.4,1140.1 1643.6,1127.6 1648.8,1130.1 1653.9,1138.6 1659.1,1142.1 1664.3,1138.6 1669.4,1127.6 1674.6,1119.3 1679.8,1127.6 1684.9,1144.2 1690.1,1146.7 1695.3,1138.0 1700.4,1137.8 1705.6,1138.6 1710.8,1132.8 1715.9,1136.9 1721.1,1149.0 1726.3,1149.8 1731.4,1143.8 1736.6,1145.3 1741.8,1144.2 1746.9,1129.7 1752.1,1116.1 1757.2,1123.4 1762.4,1136.1 1767.6,1134.9 1772.7,1133.8 1777.9,1141.7 1783.1,1138.0 1788.2,1126.5 1793.4,1124.9 1798.6,1125.5 1803.7,1127.2 1808.9,1133.8 1814.1,1135.9 1819.2,1129.7 1824.4,1124.9 1829.6,1127.6 1834.7,1138.0 1839.9,1146.7 1845.1,1146.9 1850.2,1141.1 1855.4,1135.9 1860.6,1133.8 1865.7,1131.7 1870.9,1133.8 1876.1,1151.5 1881.2,1168.1 1886.4,1159.4 1891.5,1138.0 1896.7,1129.0 1901.9,1138.0 1907.0,1150.9 1912.2,1156.1 1917.4,1150.9 1922.5,1135.9 1927.7,1124.9 1932.9,1138.6 1938.0,1156.1 1943.2,1146.3 1948.4,1129.2 1953.5,1134.9 1958.7,1147.8 1963.9,1141.5 1969.0,1125.1 1974.2,1120.9 1979.4,1132.8 1984.5,1145.3 1989.7,1141.7 1994.9,1128.2 2000.0,1128.2 2005.2,1138.6 2010.4,1139.6 2015.5,1133.8 2020.7,1135.5 2025.8,1139.0 2031.0,1140.7 2036.2,1138.0 2041.3,1133.8 2046.5,1131.7 2051.7,1138.0 2056.8,1150.0 2062.0,1152.5 2067.2,1139.0 2072.3,1127.6 2077.5,1133.2 2082.7,1146.7 2087.8,1145.3 2093.0,1132.4 2098.2,1131.3 2103.3,1144.2 2108.5,1153.2 2113.7,1149.8" stroke="#808080" transform="translate(0,336.26)"/>
<polyline points="302.1,1249.0 307.3,1250.5 312.5,1251.7 317.6,1249.9 322.8,1247.4 328.0,1246.9 333.1,1249.4 338.3,1252.1 343.4,1251.7 348.6,1249.4 353.8,1249.2 358.9,1250.7 364.1,1249.4 369.3,1248.0 374.4,1251.1 379.6,1254.8 384.8,1255.7 389.9,1252.6 395.1,1249.6 400.3,1249.4 405.4,1248.6 410.6,1245.7 415.8,1244.9 420.9,1248.6 426.1,1252.1 431.3,1251.9 436.4,1251.5 441.6,1252.6 446.8,1253.0 451.9,1251.1 457.1,1248.6 462.3,1247.8 467.4,1247.4 472.6,1246.3 477.8,1246.9 482.9,1251.1 488.1,1254.0 493.2,1253.6 498.4,1251.9 503.6,1250.3 508.7,1248.4 513.9,1246.9 519.1,1248.6 524.2,1253.6 529.4,1255.7 534.6,1251.1 539.7,1246.9 544.9,1248.4 550.1,1250.7 555.2,1251.9 560.4,1253.0 565.6,1253.6 570.7,1250.1 575.9,1244.4 581.1,1241.1 586.2,1243.2 591.4,1246.5 596.6,1246.9 601.7,1246.3 606.9,1249.4 612.1,1256.3 617.2,1261.5 622.4,1258.4 627.5,1253.2 632.7,1250.7 637.9,1249.4 643.0,1248.0 648.2,1246.9 653.4,1246.3 658.5,1246.5 663.7,1247.6 668.9,1246.9 674.0,1245.3 679.2,1246.5 684.4,1250.1 689.5,1251.7 694.7,1251.7 699.9,1252.8 705.0,1254.8 710.2,1257.3 715.4,1258.8 720.5,1256.3 725.7,1248.4 730.9,1240.1 736.0,1238.2 741.2,1247.6 746.4,1256.9 751.5,1255.3 756.7,1244.9 761.8,1236.1 767.0,1238.0 772.2,1246.9 777.3,1251.9 782.5,1252.8 787.7,1252.1 792.8,1249.0 798.0,1245.7 803.2,1245.9 808.3,1248.0 813.5,1248.6 818.7,1249.0 823.8,1249.6 829.0,1253.8 834.2,1260.9 839.3,1262.1 844.5,1255.9 849.7,1251.1 854.8,1251.7 860.0,1255.7 865.2,1256.3 870.3,1249.0 875.5,1241.7 880.7,1242.2 885.8,1246.5 891.0,1251.1 896.2,1252.8 901.3,1253.6 906.5,1255.9 911.6,1254.6 916.8,1246.9 922.0,1244.9 927.1,1251.1 932.3,1254.8 937.5,1253.6 942.6,1253.6 947.8,1254.6 953.0,1256.3 958.1,1260.0 963.3,1262.5 968.5,1256.3 973.6,1243.8 978.8,1233.4 984.0,1226.1 989.1,1225.1 994.3,1229.3 999.5,1234.5 1004.6,1240.1 1009.8,1248.0 1015.0,1259.4 1020.1,1271.9 1025.3,1281.7 1030.5,1285.8 1035.6,1281.7 1040.8,1267.3 1045.9,1245.9 1051.1,1222.0 1056.3,1203.3 1061.4,1190.8 1066.6,1188.7 1071.8,1200.2 1076.9,1220.9 1082.1,1243.8 1087.3,1262.5 1092.4,1275.0 1097.6,1280.2 1102.8,1280.2 1107.9,1277.1 1113.1,1270.9 1118.3,1264.2 1123.4,1260.9 1128.6,1260.9 1133.8,1262.5 1138.9,1264.6 1144.1,1266.1 1149.3,1267.1 1154.4,1265.2 1159.6,1259.4 1164.8,1252.6 1169.9,1245.9 1175.1,1238.2 1180.2,1230.3 1185.4,1226.1 1190.6,1228.2 1195.7,1233.4 1200.9,1239.7 1206.1,1248.0 1211.2,1258.4 1216.4,1266.1 1221.6,1270.4 1226.7,1267.7 1231.9,1261.5 1237.1,1257.8 1242.2,1254.2 1247.4,1244.9 1252.6,1237.0 1257.7,1237.2 1262.9,1242.8 1268.1,1245.7 1273.2,1245.3 1278.4,1244.4 1283.6,1243.4 1288.7,1242.2 1293.9,1241.7 1299.1,1244.2 1304.2,1248.6 1309.4,1250.1 1314.6,1248.0 1319.7,1245.9 1324.9,1247.4 1330.0,1251.5 1335.2,1255.3 1340.4,1256.5 1345.5,1256.9 1350.7,1259.0 1355.9,1259.4 1361.0,1255.9 1366.2,1253.6 1371.4,1255.1 1376.5,1256.7 1381.7,1254.8 1386.9,1252.1 1392.0,1249.0 1397.2,1243.8 1402.4,1238.0 1407.5,1235.5 1412.7,1236.5 1417.9,1240.1 1423.0,1242.2 1428.2,1244.4 1433.4,1249.4 1438.5,1255.7 1443.7,1258.0 1448.9,1254.2 1454.0,1250.7 1459.2,1250.3 1464.3,1250.1 1469.5,1246.3 1474.7,1242.2 1479.8,1239.2 1485.0,1238.2 1490.2,1241.3 1495.3,1248.0 1500.5,1253.8 1505.7,1258.2 1510.8,1260.9 1516.0,1261.7 1521.2,1261.9 1526.3,1262.7 1531.5,1263.6 1536.7,1263.8 1541.8,1261.5 1547.0,1257.3 1552.2,1255.5 1557.3,1255.1 1562.5,1254.6 1567.7,1252.8 1572.8,1249.6 1578.0,1246.5 1583.2,1243.8 1588.3,1241.3 1593.5,1237.6 1598.6,1233.4 1603.8,1232.6 1609.0,1234.9 1614.1,1236.5 1619.3,1240.7 1624.5,1249.0 1629.6,1252.1 1634.8,1249.9 1640.0,1250.3 1645.1,1254.2 1650.3,1255.9 1655.5,1254.2 1660.6,1251.1 1665.8,1250.1 1671.0,1252.1 1676.1,1255.9 1681.3,1258.4 1686.5,1259.0 1691.6,1255.3 1696.8,1248.4 1702.0,1244.4 1707.1,1245.9 1712.3,1248.4 1717.5,1252.6 1722.6,1256.9 1727.8,1256.9 1732.9,1252.1 1738.1,1249.4 1743.3,1248.6 1748.4,1246.9 1753.6,1246.1 1758.8,1247.4 1763.9,1248.6 1769.1,1248.4 1774.3,1248.2 1779.4,1249.6 1784.6,1250.7 1789.8,1248.6 1794.9,1245.9 1800.1,1246.9 1805.3,1247.8 1810.4,1246.9 1815.6,1248.4 1820.8,1253.8 1825.9,1258.8 1831.1,1261.5 1836.3,1259.8 1841.4,1252.6 1846.6,1244.4 1851.8,1240.7 1856.9,1240.3 1862.1,1242.4 1867.3,1243.6 1872.4,1243.0 1877.6,1243.0 1882.7,1244.4 1887.9,1245.9 1893.1,1248.6 1898.2,1252.4 1903.4,1255.1 1908.6,1255.5 1913.7,1252.6 1918.9,1249.6 1924.1,1252.8 1929.2,1256.9 1934.4,1258.0 1939.6,1256.3 1944.7,1254.6 1949.9,1253.8 1955.1,1253.8 1960.2,1251.7 1965.4,1249.0 1970.6,1248.0 1975.7,1245.9 1980.9,1243.8 1986.1,1244.2 1991.2,1247.4 1996.4,1252.1 2001.6,1253.4 2006.7,1249.6 2011.9,1248.8 2017.0,1251.5 2022.2,1249.4 2027.4,1245.9 2032.5,1248.6 2037.7,1251.7 2042.9,1251.7 2048.0,1250.1 2053.2,1247.6 2058.4,1244.9 2063.5,1244.2 2068.7,1246.1 2073.9,1247.8 2079.0,1248.6 2084.2,1249.4 2089.4,1250.7 2094.5,1252.8 2099.7,1254.8 2104.9,1254.8 2110.0,1252.8 2114.2,1252.8" stroke="#808080" transform="translate(0,224.17)"/>
<polyline points="302.7,1366.9 307.9,1365.3 313.1,1360.7 318.2,1355.9 323.4,1360.7 328.6,1370.0 333.7,1372.1 338.9,1365.7 344.1,1358.6 349.2,1355.9 354.4,1360.1 359.6,1365.3 364.7,1366.7 369.9,1363.8 375.1,1360.5 380.2,1362.8 385.4,1366.3 390.6,1360.1 395.7,1352.2 400.9,1353.8 406.0,1361.7 411.2,1367.8 416.4,1368.4 421.5,1364.8 426.7,1360.5 431.9,1356.5 437.0,1355.5 442.2,1357.6 447.4,1360.7 452.5,1364.6 457.7,1368.6 462.9,1369.0 468.0,1365.7 473.2,1362.8 478.4,1361.7 483.5,1362.4 488.7,1363.2 493.9,1361.7 499.0,1360.7 504.2,1365.3 509.4,1368.2 514.5,1361.1 519.7,1353.8 524.9,1353.8 530.0,1360.5 535.2,1364.6 540.3,1363.2 545.5,1361.3 550.7,1363.6 555.8,1366.9 561.0,1366.7 566.2,1364.6 571.3,1362.8 576.5,1360.1 581.7,1357.6 586.8,1359.4 592.0,1363.2 597.2,1361.1 602.3,1356.3 607.5,1358.0 612.7,1362.1 617.8,1361.1 623.0,1360.1 628.2,1365.3 633.3,1373.6 638.5,1376.1 643.7,1370.0 648.8,1363.6 654.0,1360.7 659.2,1358.6 664.3,1355.3 669.5,1355.3 674.7,1361.7 679.8,1368.2 685.0,1367.3 690.1,1360.1 695.3,1352.8 700.5,1348.2 705.6,1353.2 710.8,1365.3 716.0,1368.4 721.1,1361.7 726.3,1359.6 731.5,1362.1 736.6,1364.0 741.8,1363.2 747.0,1361.5 752.1,1360.1 757.3,1358.0 762.5,1355.5 767.6,1357.4 772.8,1358.6 778.0,1362.1 783.1,1372.5 788.3,1378.4 793.5,1372.5 798.6,1366.9 803.8,1365.7 809.0,1363.2 814.1,1360.9 819.3,1361.1 824.4,1360.5 829.6,1358.0 834.8,1354.4 839.9,1354.2 845.1,1361.7 850.3,1368.4 855.4,1363.2 860.6,1357.6 865.8,1362.6 870.9,1365.7 876.1,1359.4 881.3,1356.1 886.4,1360.7 891.6,1364.8 896.8,1367.3 901.9,1367.3 907.1,1360.5 912.3,1348.2 917.4,1340.3 922.6,1342.0 927.8,1346.5 932.9,1343.4 938.1,1338.2 943.3,1337.2 948.4,1345.5 953.6,1365.3 958.7,1390.2 963.9,1406.2 969.1,1413.1 974.2,1418.7 979.4,1423.9 984.6,1416.2 989.7,1395.0 994.9,1369.4 1000.1,1346.5 1005.2,1329.9 1010.4,1317.4 1015.6,1317.8 1020.7,1327.8 1025.9,1338.2 1031.1,1343.6 1036.2,1342.0 1041.4,1337.2 1046.6,1334.1 1051.7,1334.7 1056.9,1340.9 1062.1,1348.6 1067.2,1356.5 1072.4,1364.6 1077.6,1370.5 1082.7,1375.2 1087.9,1382.3 1093.1,1386.3 1098.2,1382.3 1103.4,1383.6 1108.5,1390.8 1113.7,1388.1 1118.9,1376.7 1124.0,1366.3 1129.2,1358.0 1134.4,1354.9 1139.5,1360.7 1144.7,1363.8 1149.9,1360.7 1155.0,1365.3 1160.2,1376.7 1165.4,1381.5 1170.5,1372.1 1175.7,1359.0 1180.9,1350.1 1186.0,1346.5 1191.2,1345.5 1196.4,1346.1 1201.5,1347.6 1206.7,1349.7 1211.9,1353.8 1217.0,1361.1 1222.2,1365.9 1227.4,1362.8 1232.5,1358.2 1237.7,1358.0 1242.8,1362.6 1248.0,1368.0 1253.2,1371.5 1258.3,1371.1 1263.5,1370.5 1268.7,1368.0 1273.8,1361.1 1279.0,1359.0 1284.2,1366.3 1289.3,1369.0 1294.5,1360.1 1299.7,1354.4 1304.8,1355.9 1310.0,1360.1 1315.2,1364.2 1320.3,1368.0 1325.5,1367.3 1330.7,1361.7 1335.8,1353.4 1341.0,1346.5 1346.2,1345.1 1351.3,1347.2 1356.5,1351.1 1361.7,1356.5 1366.8,1361.5 1372.0,1362.4 1377.1,1362.6 1382.3,1366.3 1387.5,1371.5 1392.6,1374.0 1397.8,1372.5 1403.0,1369.8 1408.1,1365.3 1413.3,1358.0 1418.5,1352.4 1423.6,1351.3 1428.8,1350.1 1434.0,1347.6 1439.1,1353.8 1444.3,1367.3 1449.5,1376.1 1454.6,1377.7 1459.8,1378.2 1465.0,1378.8 1470.1,1379.0 1475.3,1377.7 1480.5,1376.7 1485.6,1374.2 1490.8,1368.0 1496.0,1365.3 1501.1,1366.5 1506.3,1366.1 1511.4,1364.2 1516.6,1360.1 1521.8,1352.8 1526.9,1350.1 1532.1,1355.5 1537.3,1358.4 1542.4,1350.3 1547.6,1343.8 1552.8,1345.9 1557.9,1348.6 1563.1,1346.5 1568.3,1346.5 1573.4,1354.9 1578.6,1364.6 1583.8,1365.3 1588.9,1357.4 1594.1,1353.8 1599.3,1359.4 1604.4,1365.7 1609.6,1363.2 1614.8,1359.2 1619.9,1362.6 1625.1,1368.8 1630.3,1373.4 1635.4,1372.7 1640.6,1370.9 1645.8,1369.8 1650.9,1368.0 1656.1,1366.3 1661.2,1365.3 1666.4,1362.8 1671.6,1364.6 1676.7,1372.5 1681.9,1375.0 1687.1,1366.9 1692.2,1358.6 1697.4,1356.1 1702.6,1358.0 1707.7,1358.6 1712.9,1355.3 1718.1,1353.2 1723.2,1352.8 1728.4,1353.8 1733.6,1358.0 1738.7,1364.2 1743.9,1370.0 1749.1,1371.9 1754.2,1366.3 1759.4,1358.4 1764.6,1353.6 1769.7,1355.3 1774.9,1362.1 1780.1,1368.8 1785.2,1369.4 1790.4,1365.3 1795.5,1360.7 1800.7,1356.9 1805.9,1354.4 1811.0,1354.9 1816.2,1359.0 1821.4,1362.8 1826.5,1362.6 1831.7,1360.7 1836.9,1360.3 1842.0,1361.1 1847.2,1363.2 1852.4,1369.4 1857.5,1375.9 1862.7,1375.7 1867.9,1367.3 1873.0,1359.0 1878.2,1357.8 1883.4,1363.8 1888.5,1367.3 1893.7,1365.7 1898.9,1363.6 1904.0,1363.2 1909.2,1365.7 1914.4,1367.3 1919.5,1363.2 1924.7,1358.4 1929.8,1355.9 1935.0,1355.1 1940.2,1357.4 1945.3,1359.0 1950.5,1359.9 1955.7,1361.1 1960.8,1359.0 1966.0,1353.8 1971.2,1353.8 1976.3,1360.1 1981.5,1363.0 1986.7,1359.9 1991.8,1359.6 1997.0,1361.7 2002.2,1357.8 2007.3,1356.3 2012.5,1363.6 2017.7,1366.9 2022.8,1361.1 2028.0,1359.4 2033.2,1363.0 2038.3,1363.8 2043.5,1365.1 2048.7,1369.4 2053.8,1367.8 2059.0,1361.7 2064.2,1363.6 2069.3,1364.8 2074.5,1358.4 2079.6,1355.7 2084.8,1360.5 2090.0,1362.6 2095.1,1359.0 2100.3,1356.9 2105.5,1360.1 2110.6,1364.2 2114.2,1364.2" stroke="#808080" transform="translate(0,112.09)"/>
<polyline points="302.3,243.2 306.4,243.2 311.5,250.1 316.7,248.6 321.9,244.9 332.2,251.1 342.5,240.7 347.7,242.2 352.9,246.1 358.0,246.9 363.2,243.2 368.4,234.5 373.5,230.9 378.7,235.1 383.9,235.9 389.0,231.6 394.2,231.3 399.4,236.1 404.5,239.7 414.8,238.6 420.0,240.1 425.2,243.4 430.3,242.4 435.5,234.1 440.7,231.8 445.8,239.0 451.0,243.2 456.2,239.7 461.3,236.5 466.5,235.9 471.7,237.6 476.8,240.7 482.0,241.3 487.2,242.8 492.3,246.9 497.5,247.6 502.7,245.3 507.8,243.6 513.0,239.2 518.2,230.3 523.3,226.6 528.5,235.5 533.7,245.9 538.8,247.4 549.1,236.5 554.3,237.2 559.5,245.5 564.6,248.0 569.8,242.8 575.0,238.8 580.1,238.4 590.5,236.5 595.6,237.6 600.8,242.2 606.0,245.5 611.1,242.8 616.3,237.0 621.5,234.9 626.6,238.6 631.8,243.4 637.0,246.9 642.1,247.4 647.3,242.8 652.5,238.8 657.6,242.4 662.8,247.4 668.0,250.1 673.1,242.8 678.3,234.1 683.5,235.5 688.6,245.9 693.8,249.6 698.9,241.7 704.1,235.1 709.3,238.6 714.4,242.8 719.6,240.1 724.8,235.7 729.9,235.9 735.1,242.2 740.3,250.1 745.4,252.1 750.6,243.8 755.8,237.6 760.9,241.3 766.1,249.0 771.3,255.9 776.4,259.4 781.6,251.7 786.8,235.9 791.9,225.5 797.1,227.2 802.3,234.1 807.4,244.4 812.6,250.1 817.8,243.8 822.9,237.0 828.1,237.2 833.2,242.4 838.4,246.3 843.6,245.3 848.7,241.7 853.9,235.5 859.1,229.1 864.2,228.6 869.4,237.6 874.6,252.6 879.7,259.8 884.9,251.5 890.1,241.3 895.2,239.7 900.4,243.8 905.6,244.9 910.7,241.3 915.9,237.2 921.1,234.9 926.2,234.5 931.4,232.4 936.6,229.9 941.7,233.8 946.9,239.7 952.1,244.2 957.2,252.1 962.4,256.7 967.5,247.4 972.7,231.8 977.9,227.2 983.0,237.6 988.2,245.9 993.4,241.7 998.5,237.2 1003.7,239.7 1008.9,245.3 1014.0,250.1 1019.2,250.1 1024.4,247.4 1029.5,245.9 1034.7,242.4 1039.9,236.1 1045.0,232.8 1050.2,232.8 1055.4,235.5 1060.5,238.6 1065.7,240.7 1070.9,243.8 1076.0,248.0 1081.2,251.1 1086.4,253.8 1091.5,255.7 1096.7,252.8 1101.9,242.8 1107.0,237.0 1112.2,239.7 1117.3,240.1 1122.5,238.0 1127.7,238.0 1132.8,236.5 1138.0,231.3 1143.2,223.4 1148.3,211.0 1153.5,199.7 1158.7,196.6 1163.8,202.9 1169.0,213.7 1174.2,226.1 1179.3,232.4 1184.5,238.2 1189.7,252.6 1194.8,267.7 1200.0,272.5 1205.2,271.5 1210.3,272.3 1215.5,274.4 1220.7,281.7 1225.8,294.2 1231.0,302.7 1236.2,299.3 1241.3,282.9 1246.5,253.2 1251.6,220.9 1256.8,197.0 1262.0,186.2 1267.1,189.1 1272.3,197.7 1277.5,207.4 1282.6,218.2 1287.8,227.8 1293.0,233.8 1298.1,235.1 1303.3,236.5 1308.5,243.8 1313.6,252.6 1318.8,256.3 1324.0,264.6 1329.1,279.2 1334.3,281.9 1339.5,271.9 1344.6,265.2 1349.8,260.5 1355.0,251.7 1360.1,242.4 1365.3,228.9 1370.5,213.0 1375.6,206.8 1380.8,208.9 1385.9,203.9 1391.1,202.6 1396.3,216.8 1401.4,233.0 1406.6,240.1 1411.8,241.5 1416.9,241.7 1422.1,242.4 1427.3,245.3 1432.4,248.6 1437.6,253.2 1442.8,256.9 1447.9,256.7 1453.1,254.8 1458.3,250.1 1463.4,241.7 1468.6,237.2 1473.8,240.7 1478.9,242.8 1484.1,237.6 1489.3,230.3 1494.4,226.6 1499.6,230.3 1504.8,236.1 1509.9,238.2 1515.1,236.1 1520.3,237.0 1525.4,240.3 1530.6,242.4 1535.7,243.2 1540.9,244.9 1546.1,242.2 1551.2,238.2 1556.4,243.8 1561.6,254.6 1566.7,254.2 1571.9,243.2 1577.1,238.6 1582.2,246.5 1587.4,249.0 1592.6,238.0 1597.7,230.3 1602.9,237.0 1608.1,245.9 1613.2,246.3 1618.4,237.6 1623.6,229.7 1628.7,236.5 1633.9,250.5 1639.1,250.5 1644.2,241.7 1649.4,239.7 1654.6,244.2 1659.7,243.4 1664.9,238.0 1670.0,232.0 1675.2,226.1 1680.4,228.9 1685.5,238.6 1690.7,241.1 1695.9,237.0 1701.0,240.1 1706.2,248.4 1711.4,251.1 1716.5,248.4 1721.7,245.9 1726.9,248.4 1732.0,252.1 1737.2,248.6 1742.4,242.8 1747.5,242.4 1752.7,245.5 1757.9,249.6 1763.0,249.9 1768.2,245.9 1773.4,242.4 1778.5,240.7 1783.7,242.8 1788.9,244.4 1794.0,239.7 1799.2,231.8 1804.3,230.7 1809.5,236.5 1814.7,239.2 1819.8,236.5 1825.0,233.8 1830.2,236.5 1835.3,242.4 1840.5,243.2 1845.7,237.0 1850.8,232.4 1856.0,232.0 1861.2,234.5 1866.3,241.7 1871.5,251.5 1876.7,255.7 1881.8,249.4 1887.0,243.2 1892.2,245.9 1897.3,251.5 1902.5,249.6 1907.7,242.4 1912.8,239.7 1918.0,240.1 1923.2,236.1 1928.3,231.6 1933.5,234.5 1938.6,240.7 1943.8,242.2 1949.0,238.2 1954.1,236.1 1959.3,237.2 1964.5,237.0 1969.6,239.7 1974.8,247.4 1980.0,249.0 1985.1,242.8 1990.3,240.1 1995.5,242.4 2000.6,245.5 2005.8,249.6 2011.0,254.6 2016.1,253.6 2021.3,245.3 2026.5,241.1 2031.6,240.3 2036.8,235.5 2042.0,229.3 2047.1,234.1 2052.3,243.4 2057.5,243.2 2062.6,234.1 2067.8,228.6 2073.0,227.8 2078.1,233.4 2083.3,243.8 2088.4,246.9 2093.6,237.2 2098.8,227.6 2103.9,228.9 2109.1,242.8 2114.3,251.5" stroke="#0000ff" transform="translate(0,1232.93)"/>
</g>
<text y="228.0" font-size="43.5" fill="#000"><tspan x="325.0" textLength="238.5" lengthAdjust="spacingAndGlyphs">608800525</tspan><tspan> </tspan><tspan x="578.1">|</tspan><tspan> </tspan><tspan x="604.0" textLength="92.8" lengthAdjust="spacingAndGlyphs">1.00</tspan></text>
<text y="340.1" font-size="43.5" fill="#000"><tspan x="325.0" textLength="185.5" lengthAdjust="spacingAndGlyphs">1369185</tspan><tspan> </tspan><tspan x="525.1">|</tspan><tspan> </tspan><tspan x="551.0" textLength="92.8" lengthAdjust="spacingAndGlyphs">0.85</tspan></text>
<text y="452.2" font-size="43.5" fill="#000"><tspan x="325.0" textLength="185.5" lengthAdjust="spacingAndGlyphs">1498653</tspan><tspan> </tspan><tspan x="525.1">|</tspan><tspan> </tspan><tspan x="551.0" textLength="92.8" lengthAdjust="spacingAndGlyphs">0.85</tspan></text>
<text y="564.3" font-size="43.5" fill="#000"><tspan x="325.0" textLength="185.5" lengthAdjust="spacingAndGlyphs">1499084</tspan><tspan> </tspan><tspan x="525.1">|</tspan><tspan> </tspan><tspan x="551.0" textLength="92.8" lengthAdjust="spacingAndGlyphs">0.84</tspan></text>
<text y="676.3" font-size="43.5" fill="#000"><tspan x="325.0" textLength="185.5" lengthAdjust="spacingAndGlyphs">1498656</tspan><tspan> </tspan><tspan x="525.1">|</tspan><tspan> </tspan><tspan x="551.0" textLength="92.8" lengthAdjust="spacingAndGlyphs">0.84</tspan></text>
<text y="788.4" font-size="43.5" fill="#000"><tspan x="325.0" textLength="185.5" lengthAdjust="spacingAndGlyphs">1498645</tspan><tspan> </tspan><tspan x="525.1">|</tspan><tspan> </tspan><tspan x="551.0" textLength="92.8" lengthAdjust="spacingAndGlyphs">0.84</tspan></text>
<text y="900.5" font-size="43.5" fill="#000"><tspan x="325.0" textLength="185.5" lengthAdjust="spacingAndGlyphs">1315611</tspan><tspan> </tspan><tspan x="525.1">|</tspan><tspan> </tspan><tspan x="551.0" textLength="92.8" lengthAdjust="spacingAndGlyphs">0.84</tspan></text>
<text y="1012.6" font-size="43.5" fill="#000"><tspan x="325.0" textLength="185.5" lengthAdjust="spacingAndGlyphs">1345733</tspan><tspan> </tspan><tspan x="525.1">|</tspan><tspan> </tspan><tspan x="551.0" textLength="92.8" lengthAdjust="spacingAndGlyphs">0.81</tspan></text>
<text y="1124.7" font-size="43.5" fill="#000"><tspan x="325.0" textLength="185.5" lengthAdjust="spacingAndGlyphs">1342994</tspan><tspan> </tspan><tspan x="525.1">|</tspan><tspan> </tspan><tspan x="551.0" textLength="92.8" lengthAdjust="spacingAndGlyphs">0.81</tspan></text>
<text y="1236.8" font-size="43.5" fill="#000"><tspan x="325.0" textLength="185.5" lengthAdjust="spacingAndGlyphs">1340364</tspan><tspan> </tspan><tspan x="525.1">|</tspan><tspan> </tspan><tspan x="551.0" textLength="92.8" lengthAdjust="spacingAndGlyphs">0.81</tspan></text>
<text y="1348.8" font-size="43.5" fill="#000"><tspan x="325.0" textLength="185.5" lengthAdjust="spacingAndGlyphs">1498655</tspan><tspan> </tspan><tspan x="525.1">|</tspan><tspan> </tspan><tspan x="551.0" textLength="92.8" lengthAdjust="spacingAndGlyphs">0.80</tspan></text>
<rect x="661.40" y="213.20" width="8.3" height="55.7" fill="#ff0000"/>
<rect x="1162.55" y="213.20" width="8.3" height="55.7" fill="#00e000"/>
<rect x="963.45" y="325.28" width="8.3" height="55.7" fill="#00e000"/>
<rect x="963.75" y="437.37" width="8.3" height="55.7" fill="#00e000"/>
<rect x="885.25" y="549.46" width="8.3" height="55.7" fill="#00e000"/>
<rect x="927.45" y="661.54" width="8.3" height="55.7" fill="#00e000"/>
<rect x="926.05" y="773.62" width="8.3" height="55.7" fill="#00e000"/>
<rect x="890.65" y="885.71" width="8.3" height="55.7" fill="#00e000"/>
<rect x="1168.45" y="997.79" width="8.3" height="55.7" fill="#00e000"/>
<rect x="921.35" y="1109.88" width="8.3" height="55.7" fill="#00e000"/>
<rect x="969.25" y="1221.96" width="8.3" height="55.7" fill="#00e000"/>
<rect x="938.85" y="1334.05" width="8.3" height="55.7" fill="#00e000"/>
<text x="457.4" y="1617.5" font-size="43.5" fill="#262626" text-anchor="middle" textLength="83" lengthAdjust="spacingAndGlyphs">-0.2</text>
<text x="664.4" y="1617.5" font-size="43.5" fill="#262626" text-anchor="middle" textLength="26" lengthAdjust="spacingAndGlyphs">0</text>
<text x="872.7" y="1617.5" font-size="43.5" fill="#262626" text-anchor="middle" textLength="67" lengthAdjust="spacingAndGlyphs">0.2</text>
<text x="1078.8" y="1617.5" font-size="43.5" fill="#262626" text-anchor="middle" textLength="67" lengthAdjust="spacingAndGlyphs">0.4</text>
<text x="1285.5" y="1617.5" font-size="43.5" fill="#262626" text-anchor="middle" textLength="67" lengthAdjust="spacingAndGlyphs">0.6</text>
<text x="1492.2" y="1617.5" font-size="43.5" fill="#262626" text-anchor="middle" textLength="67" lengthAdjust="spacingAndGlyphs">0.8</text>
<text x="1697.3" y="1617.5" font-size="43.5" fill="#262626" text-anchor="middle" textLength="27" lengthAdjust="spacingAndGlyphs">1</text>
<text x="1905.0" y="1617.5" font-size="43.5" fill="#262626" text-anchor="middle" textLength="65" lengthAdjust="spacingAndGlyphs">1.2</text>
<text x="2111.4" y="1617.5" font-size="43.5" fill="#262626" text-anchor="middle" textLength="65" lengthAdjust="spacingAndGlyphs">1.4</text>
<text y="96.7" font-size="73" fill="#000"><tspan x="754.2" textLength="381.6" lengthAdjust="spacingAndGlyphs">608800525</tspan><tspan x="1135.8" textLength="21.2" lengthAdjust="spacingAndGlyphs">.</tspan><tspan x="1157.0" textLength="52.5" lengthAdjust="spacingAndGlyphs">O</tspan><tspan x="1209.5" textLength="52.5" lengthAdjust="spacingAndGlyphs">O</tspan><tspan x="1262.0" textLength="21.2" lengthAdjust="spacingAndGlyphs">.</tspan><tspan x="1283.2" textLength="45.6" lengthAdjust="spacingAndGlyphs">A</tspan><tspan x="1328.8" textLength="45.7" lengthAdjust="spacingAndGlyphs">X</tspan><tspan x="1374.4" textLength="42.1" lengthAdjust="spacingAndGlyphs">E</tspan><tspan x="1416.6" textLength="46.5" lengthAdjust="spacingAndGlyphs">C</tspan><tspan x="1463.1" textLength="42.4" lengthAdjust="spacingAndGlyphs">1</tspan><tspan x="1505.5" textLength="21.2" lengthAdjust="spacingAndGlyphs">.</tspan><tspan x="1526.7" textLength="42.1" lengthAdjust="spacingAndGlyphs">E</tspan><tspan x="1568.8" textLength="50.1" lengthAdjust="spacingAndGlyphs">H</tspan><tspan x="1619.0" textLength="42.1" lengthAdjust="spacingAndGlyphs">E</tspan></text>
</svg></body></html>
